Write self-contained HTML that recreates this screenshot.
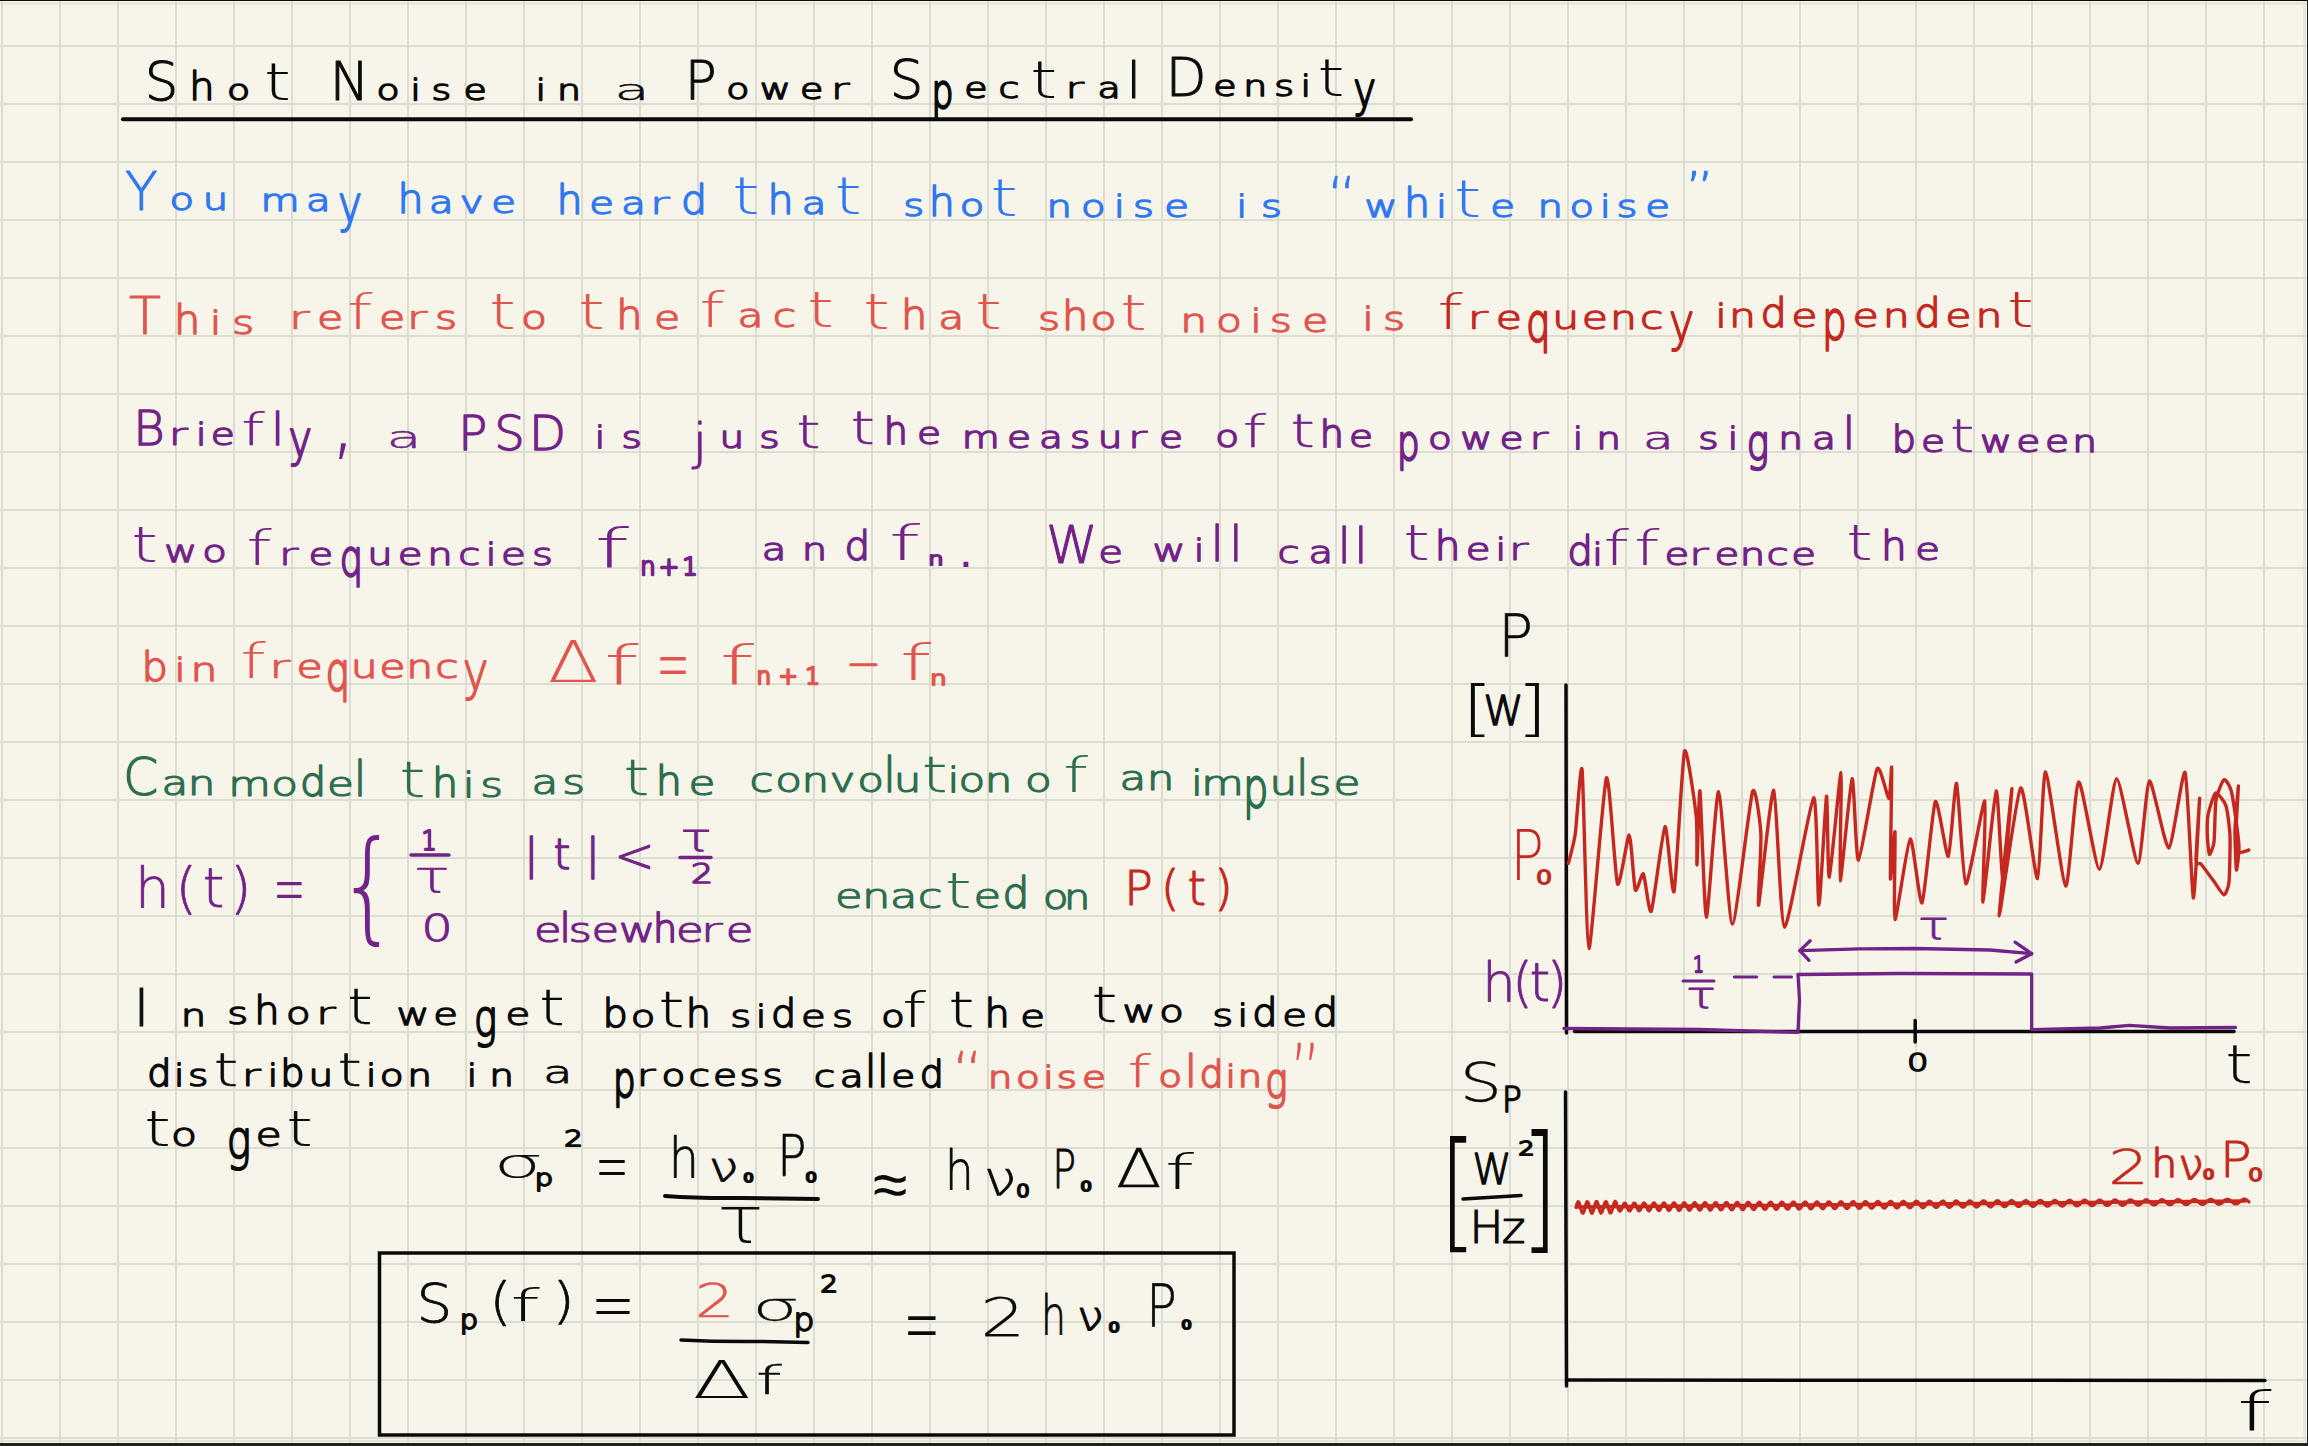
<!DOCTYPE html>
<html><head><meta charset="utf-8"><title>Shot Noise in a Power Spectral Density</title>
<style>html,body{margin:0;padding:0;background:#222;width:2308px;height:1446px}svg{display:block}text{font-family:"Liberation Sans",sans-serif}</style></head><body>
<svg width="2308" height="1446" viewBox="0 0 2308 1446">
<rect x="0" y="0" width="2308" height="1446" fill="#222"/>
<rect x="0" y="0" width="2308" height="1" fill="#0d0d0d"/>
<rect x="0" y="1" width="2307" height="1442" fill="#f7f5ea"/>
<rect x="0" y="2" width="2307" height="3" fill="#e9e8dc"/>
<rect x="2303" y="1" width="3" height="1442" fill="#e9e8dc"/>
<rect x="0" y="1440" width="2307" height="2" fill="#e6e5da"/>
<g fill="#dddcd0"><rect x="1" y="1" width="2" height="1442"/><rect x="59" y="1" width="2" height="1442"/><rect x="117" y="1" width="2" height="1442"/><rect x="175" y="1" width="2" height="1442"/><rect x="233" y="1" width="2" height="1442"/><rect x="291" y="1" width="2" height="1442"/><rect x="349" y="1" width="2" height="1442"/><rect x="407" y="1" width="2" height="1442"/><rect x="465" y="1" width="2" height="1442"/><rect x="523" y="1" width="2" height="1442"/><rect x="581" y="1" width="2" height="1442"/><rect x="639" y="1" width="2" height="1442"/><rect x="697" y="1" width="2" height="1442"/><rect x="755" y="1" width="2" height="1442"/><rect x="813" y="1" width="2" height="1442"/><rect x="871" y="1" width="2" height="1442"/><rect x="929" y="1" width="2" height="1442"/><rect x="987" y="1" width="2" height="1442"/><rect x="1045" y="1" width="2" height="1442"/><rect x="1103" y="1" width="2" height="1442"/><rect x="1161" y="1" width="2" height="1442"/><rect x="1219" y="1" width="2" height="1442"/><rect x="1277" y="1" width="2" height="1442"/><rect x="1335" y="1" width="2" height="1442"/><rect x="1393" y="1" width="2" height="1442"/><rect x="1451" y="1" width="2" height="1442"/><rect x="1509" y="1" width="2" height="1442"/><rect x="1567" y="1" width="2" height="1442"/><rect x="1625" y="1" width="2" height="1442"/><rect x="1683" y="1" width="2" height="1442"/><rect x="1741" y="1" width="2" height="1442"/><rect x="1799" y="1" width="2" height="1442"/><rect x="1857" y="1" width="2" height="1442"/><rect x="1915" y="1" width="2" height="1442"/><rect x="1973" y="1" width="2" height="1442"/><rect x="2031" y="1" width="2" height="1442"/><rect x="2089" y="1" width="2" height="1442"/><rect x="2147" y="1" width="2" height="1442"/><rect x="2205" y="1" width="2" height="1442"/><rect x="2263" y="1" width="2" height="1442"/><rect x="0" y="45" width="2307" height="2"/><rect x="0" y="103" width="2307" height="2"/><rect x="0" y="161" width="2307" height="2"/><rect x="0" y="219" width="2307" height="2"/><rect x="0" y="277" width="2307" height="2"/><rect x="0" y="335" width="2307" height="2"/><rect x="0" y="393" width="2307" height="2"/><rect x="0" y="451" width="2307" height="2"/><rect x="0" y="509" width="2307" height="2"/><rect x="0" y="567" width="2307" height="2"/><rect x="0" y="625" width="2307" height="2"/><rect x="0" y="683" width="2307" height="2"/><rect x="0" y="741" width="2307" height="2"/><rect x="0" y="799" width="2307" height="2"/><rect x="0" y="857" width="2307" height="2"/><rect x="0" y="915" width="2307" height="2"/><rect x="0" y="973" width="2307" height="2"/><rect x="0" y="1031" width="2307" height="2"/><rect x="0" y="1089" width="2307" height="2"/><rect x="0" y="1147" width="2307" height="2"/><rect x="0" y="1205" width="2307" height="2"/><rect x="0" y="1263" width="2307" height="2"/><rect x="0" y="1321" width="2307" height="2"/><rect x="0" y="1379" width="2307" height="2"/><rect x="0" y="1437" width="2307" height="2"/></g>

<g fill="none" stroke-linecap="round" stroke-linejoin="round">
<line x1="123" y1="119.3" x2="1411" y2="119.3" stroke="#0a0a0a" stroke-width="4"/>
<polyline points="411.0,855.0 449.0,855.0" stroke="#722387" stroke-width="3.5"/>
<polyline points="680.0,857.5 711.0,857.5" stroke="#722387" stroke-width="3.5"/>
<path d="M665,1196 Q700,1198.5 740,1198 L818,1199" stroke="#0a0a0a" stroke-width="4"/>
<rect x="379.5" y="1253" width="854.5" height="182" stroke="#0a0a0a" stroke-width="3.5" stroke-linejoin="miter"/>
<path d="M681,1340 Q720,1342 760,1341.5 L808,1342.5" stroke="#0a0a0a" stroke-width="3.5"/>
<line x1="1566" y1="685" x2="1566.5" y2="1033" stroke="#0a0a0a" stroke-width="3.5"/>
<line x1="1574.6" y1="1031.5" x2="2234" y2="1031.5" stroke="#0a0a0a" stroke-width="3.5"/>
<line x1="1915.2" y1="1020.5" x2="1915.2" y2="1042" stroke="#0a0a0a" stroke-width="3.5"/>
<path d="M1568.4,863.3 C1569.1,860.4 1573.8,843.8 1575.2,834.4 C1576.6,825.0 1580.7,758.3 1582.1,769.7 C1583.5,781.1 1586.5,947.7 1588.9,948.5 C1591.3,949.3 1603.5,784.5 1606.4,778.0 C1609.3,771.5 1615.2,878.1 1617.5,883.8 C1619.8,889.5 1627.4,834.5 1629.2,835.1 C1631.0,835.7 1633.9,886.0 1635.3,889.9 C1636.7,893.8 1641.8,871.8 1643.4,873.9 C1645.0,876.0 1649.1,915.9 1651.3,911.2 C1653.5,906.5 1662.7,828.7 1665.0,826.7 C1667.3,824.7 1672.1,898.9 1674.1,891.4 C1676.0,883.9 1682.3,758.9 1684.5,751.4 C1686.7,743.9 1695.0,804.7 1696.2,816.0 C1697.5,827.3 1696.6,867.3 1697.0,864.8 C1697.4,862.3 1699.1,785.8 1700.0,791.0 C1700.9,796.2 1704.5,917.2 1706.4,917.3 C1708.3,917.4 1716.0,791.0 1718.6,791.7 C1721.2,792.4 1729.0,924.1 1732.4,924.1 C1735.8,924.1 1749.7,800.7 1752.5,791.7 C1755.3,782.7 1760.3,823.1 1760.9,834.4 C1761.5,845.7 1757.3,909.5 1758.6,905.1 C1759.9,900.7 1771.2,788.0 1773.8,790.2 C1776.4,792.4 1780.5,926.4 1784.5,927.2 C1788.5,928.0 1810.2,800.0 1813.6,797.8 C1817.0,795.6 1817.6,905.2 1818.9,905.1 C1820.2,905.0 1825.5,799.1 1826.5,796.3 C1827.5,793.5 1827.8,879.4 1829.3,877.0 C1830.8,874.6 1839.9,772.3 1841.0,772.7 C1842.1,773.1 1839.1,880.2 1840.2,880.8 C1841.3,881.4 1850.3,780.9 1852.1,778.8 C1853.9,776.7 1856.0,861.2 1858.5,860.2 C1861.0,859.2 1874.0,775.1 1877.0,768.9 C1880.0,762.7 1887.4,798.7 1888.9,798.6 C1890.4,798.5 1891.5,760.2 1891.7,768.2 C1891.9,776.2 1890.1,872.1 1890.4,878.5 C1890.7,884.9 1894.5,827.9 1895.0,832.0 C1895.5,836.1 1893.5,918.9 1895.0,919.6 C1896.5,920.3 1907.5,840.6 1910.2,838.9 C1912.9,837.2 1919.6,906.5 1922.1,902.8 C1924.6,899.1 1932.7,806.2 1935.3,801.6 C1937.9,797.0 1946.2,858.2 1948.3,856.4 C1950.4,854.6 1954.8,780.7 1956.6,783.4 C1958.3,786.1 1963.0,882.0 1965.8,883.8 C1968.6,885.5 1983.1,799.1 1984.8,800.9 C1986.5,802.7 1981.9,903.0 1983.0,902.0 C1984.1,901.0 1994.2,793.2 1996.2,791.0 C1998.2,788.8 2001.4,880.2 2003.0,880.0 C2004.6,879.8 2012.3,785.1 2011.9,788.7 C2011.5,792.3 1998.4,915.9 1999.3,915.8 C2000.2,915.7 2016.8,791.7 2020.6,788.0 C2024.4,784.3 2035.0,880.1 2037.5,878.5 C2040.0,876.9 2042.8,771.2 2045.6,772.0 C2048.4,772.8 2062.4,885.1 2065.7,886.1 C2069.0,887.1 2075.2,783.6 2078.6,781.9 C2082.0,780.2 2095.6,869.7 2099.4,869.4 C2103.2,869.1 2112.8,779.4 2116.6,778.8 C2120.4,778.2 2134.6,863.1 2137.9,863.3 C2141.2,863.5 2146.3,782.6 2149.4,781.1 C2152.5,779.6 2165.2,848.9 2168.8,848.0 C2172.4,847.1 2182.7,767.5 2185.1,772.5 C2187.5,777.5 2191.9,895.4 2193.3,898.0 C2194.8,900.6 2199.3,802.2 2199.6,798.4 C2199.9,794.6 2195.9,853.4 2196.0,860.0 C2196.1,866.6 2199.3,862.0 2201.0,864.0 C2202.7,866.0 2210.7,876.9 2213.0,880.0 C2215.3,883.1 2222.3,894.6 2223.9,894.8 C2225.5,895.0 2228.4,887.9 2229.0,882.0 C2229.6,876.1 2230.3,843.6 2230.0,836.0 C2229.7,828.4 2227.4,810.3 2226.0,806.0 C2224.6,801.7 2217.4,792.1 2215.6,793.0 C2213.8,793.9 2208.8,810.8 2208.0,815.0 C2207.2,819.2 2207.2,831.1 2207.3,835.0 C2207.4,838.9 2208.7,853.7 2209.4,854.4 C2210.1,855.1 2213.3,847.4 2214.0,842.0 C2214.7,836.6 2215.0,806.2 2216.0,800.0 C2217.0,793.8 2222.5,780.7 2224.0,779.7 C2225.5,778.7 2229.8,786.0 2231.0,790.0 C2232.2,794.0 2235.2,814.2 2236.0,820.0 C2236.8,825.8 2239.0,843.0 2239.0,848.0 C2239.0,853.0 2236.8,871.8 2236.4,870.0 C2236.0,868.2 2234.8,838.4 2235.0,830.0 C2235.2,821.6 2238.3,785.8 2238.4,786.0 C2238.5,786.2 2236.0,825.4 2236.0,832.0 C2236.0,838.6 2236.7,850.2 2238.0,852.0 C2239.3,853.8 2247.7,850.2 2248.8,850.0" stroke="#c4281f" stroke-width="3.4"/>
<polyline points="1564.0,1028.5 1700.0,1029.5 1798.0,1032.4 1799.5,1000.0 1798.0,974.5 1900.0,973.5 2031.7,974.0 2031.7,1029.6 2100.0,1028.0 2129.4,1025.4 2170.0,1028.0 2235.5,1027.5" stroke="#722387" stroke-width="3.3"/>
<polyline points="1683.0,981.0 1714.0,981.0" stroke="#722387" stroke-width="3"/>
<polyline points="1734.3,977.0 1756.6,977.0" stroke="#722387" stroke-width="3"/>
<polyline points="1774.0,977.0 1791.5,977.0" stroke="#722387" stroke-width="3"/>
<polyline points="1799.8,950.6 1860.0,948.8 1915.2,948.5 1990.0,950.0 2031.7,953.7" stroke="#722387" stroke-width="3.3"/>
<polyline points="1810.2,940.8 1799.8,950.6 1809.0,960.3" stroke="#722387" stroke-width="3.3"/>
<polyline points="2015.0,942.2 2031.7,953.7 2016.0,962.0" stroke="#722387" stroke-width="3.3"/>
<line x1="1565.5" y1="1092" x2="1566.5" y2="1386" stroke="#0a0a0a" stroke-width="3.5"/>
<line x1="1567" y1="1380" x2="2265" y2="1380.5" stroke="#0a0a0a" stroke-width="3.5"/>
<line x1="1463" y1="1199" x2="1521" y2="1195.5" stroke="#0a0a0a" stroke-width="3.5"/>
<polyline points="1576.0,1207.5 1577.0,1203.6 1578.0,1201.6 1579.0,1202.3 1580.0,1205.4 1581.0,1209.5 1582.0,1212.6 1583.0,1213.3 1584.0,1211.4 1585.0,1207.6 1586.0,1203.8 1587.0,1201.6 1588.0,1202.1 1589.0,1205.0 1590.0,1208.9 1591.0,1212.2 1592.0,1213.3 1593.0,1211.7 1594.0,1208.2 1595.0,1204.3 1596.0,1201.7 1597.0,1201.7 1598.0,1204.2 1599.0,1208.0 1600.0,1211.5 1601.0,1213.2 1602.0,1212.2 1603.0,1209.1 1604.0,1205.2 1605.0,1202.2 1606.0,1201.4 1607.0,1203.1 1608.0,1206.6 1609.0,1210.4 1610.0,1212.8 1611.0,1212.8 1612.0,1210.3 1613.0,1206.6 1614.0,1203.1 1615.0,1201.3 1616.0,1202.0 1617.0,1205.6 1618.0,1208.3 1619.0,1210.4 1620.0,1211.2 1621.0,1210.2 1622.0,1208.0 1623.0,1205.4 1624.0,1203.5 1625.0,1203.1 1626.0,1204.3 1627.0,1206.7 1628.0,1209.2 1629.0,1210.9 1630.0,1210.9 1631.0,1209.3 1632.0,1206.8 1633.0,1204.4 1634.0,1203.0 1635.0,1203.3 1636.0,1205.0 1637.0,1207.5 1638.0,1209.8 1639.0,1210.9 1640.0,1210.4 1641.0,1208.6 1642.0,1206.0 1643.0,1203.8 1644.0,1202.9 1645.0,1203.5 1646.0,1205.5 1647.0,1208.0 1648.0,1210.1 1649.0,1210.9 1650.0,1210.1 1651.0,1208.0 1652.0,1205.5 1653.0,1203.5 1654.0,1202.8 1655.0,1203.6 1656.0,1205.7 1657.0,1208.1 1658.0,1210.1 1659.0,1210.7 1660.0,1209.9 1661.0,1207.8 1662.0,1205.4 1663.0,1203.4 1664.0,1202.8 1665.0,1203.6 1666.0,1205.6 1667.0,1208.0 1668.0,1209.9 1669.0,1210.6 1670.0,1209.8 1671.0,1207.9 1672.0,1205.5 1673.0,1203.5 1674.0,1202.7 1675.0,1203.4 1676.0,1205.2 1677.0,1207.6 1678.0,1209.6 1679.0,1210.5 1680.0,1210.0 1681.0,1208.2 1682.0,1205.8 1683.0,1203.7 1684.0,1202.7 1685.0,1203.0 1686.0,1204.6 1687.0,1206.9 1688.0,1209.0 1689.0,1210.3 1690.0,1210.1 1691.0,1208.7 1692.0,1206.5 1693.0,1204.3 1694.0,1202.8 1695.0,1202.7 1696.0,1203.8 1697.0,1205.9 1698.0,1208.2 1699.0,1209.8 1700.0,1210.2 1701.0,1209.3 1702.0,1207.4 1703.0,1205.1 1704.0,1203.3 1705.0,1202.5 1706.0,1203.1 1707.0,1204.8 1708.0,1207.0 1709.0,1209.0 1710.0,1210.1 1711.0,1209.9 1712.0,1208.4 1713.0,1206.3 1714.0,1204.1 1715.0,1202.7 1716.0,1202.5 1717.0,1203.6 1718.0,1205.5 1719.0,1207.7 1720.0,1209.4 1721.0,1210.0 1722.0,1209.4 1723.0,1207.7 1724.0,1205.5 1725.0,1203.5 1726.0,1202.5 1727.0,1202.6 1728.0,1203.9 1729.0,1206.0 1730.0,1208.1 1731.0,1209.5 1732.0,1209.9 1733.0,1209.0 1734.0,1207.2 1735.0,1205.0 1736.0,1203.2 1737.0,1202.3 1738.0,1202.7 1739.0,1204.1 1740.0,1206.1 1741.0,1208.1 1742.0,1209.5 1743.0,1209.7 1744.0,1208.8 1745.0,1206.9 1746.0,1204.8 1747.0,1203.1 1748.0,1202.3 1749.0,1202.6 1750.0,1204.0 1751.0,1206.0 1752.0,1208.0 1753.0,1209.3 1754.0,1209.6 1755.0,1208.7 1756.0,1207.0 1757.0,1204.9 1758.0,1203.1 1759.0,1202.2 1760.0,1202.4 1761.0,1203.7 1762.0,1205.6 1763.0,1207.6 1764.0,1209.1 1765.0,1209.5 1766.0,1208.8 1767.0,1207.2 1768.0,1205.2 1769.0,1203.4 1770.0,1202.3 1771.0,1202.2 1772.0,1203.2 1773.0,1205.0 1774.0,1207.0 1775.0,1208.6 1776.0,1209.4 1777.0,1209.0 1778.0,1207.7 1779.0,1205.8 1780.0,1203.9 1781.0,1202.5 1782.0,1202.0 1783.0,1202.6 1784.0,1204.1 1785.0,1206.1 1786.0,1207.9 1787.0,1209.0 1788.0,1209.2 1789.0,1208.3 1790.0,1206.6 1791.0,1204.7 1792.0,1203.0 1793.0,1202.0 1794.0,1202.1 1795.0,1203.2 1796.0,1204.9 1797.0,1206.8 1798.0,1208.4 1799.0,1209.1 1800.0,1208.8 1801.0,1207.6 1802.0,1205.8 1803.0,1203.9 1804.0,1202.5 1805.0,1201.9 1806.0,1202.3 1807.0,1203.6 1808.0,1205.4 1809.0,1207.2 1810.0,1208.5 1811.0,1209.0 1812.0,1208.4 1813.0,1207.0 1814.0,1205.2 1815.0,1203.4 1816.0,1202.2 1817.0,1201.8 1818.0,1202.4 1819.0,1203.8 1820.0,1205.6 1821.0,1207.4 1822.0,1208.5 1823.0,1208.8 1824.0,1208.2 1825.0,1206.7 1826.0,1204.9 1827.0,1203.2 1828.0,1202.0 1829.0,1201.7 1830.0,1202.4 1831.0,1203.8 1832.0,1205.6 1833.0,1207.3 1834.0,1208.4 1835.0,1208.7 1836.0,1208.0 1837.0,1206.6 1838.0,1204.9 1839.0,1203.2 1840.0,1202.0 1841.0,1201.7 1842.0,1202.2 1843.0,1203.6 1844.0,1205.3 1845.0,1207.0 1846.0,1208.2 1847.0,1208.6 1848.0,1208.1 1849.0,1206.8 1850.0,1205.1 1851.0,1203.4 1852.0,1202.1 1853.0,1201.6 1854.0,1201.9 1855.0,1203.1 1856.0,1204.7 1857.0,1206.4 1858.0,1207.8 1859.0,1208.4 1860.0,1208.2 1861.0,1207.1 1862.0,1205.5 1863.0,1203.8 1864.0,1202.4 1865.0,1201.6 1866.0,1201.6 1867.0,1202.5 1868.0,1204.0 1869.0,1205.7 1870.0,1207.2 1871.0,1208.1 1872.0,1208.2 1873.0,1207.5 1874.0,1206.2 1875.0,1204.5 1876.0,1202.9 1877.0,1201.8 1878.0,1201.4 1879.0,1201.9 1880.0,1203.0 1881.0,1204.6 1882.0,1206.2 1883.0,1207.5 1884.0,1208.1 1885.0,1207.9 1886.0,1206.9 1887.0,1205.4 1888.0,1203.8 1889.0,1202.4 1890.0,1201.5 1891.0,1201.4 1892.0,1202.1 1893.0,1203.4 1894.0,1205.0 1895.0,1206.5 1896.0,1207.6 1897.0,1208.0 1898.0,1207.6 1899.0,1206.5 1900.0,1204.9 1901.0,1203.3 1902.0,1202.0 1903.0,1201.3 1904.0,1201.4 1905.0,1202.2 1906.0,1203.5 1907.0,1205.1 1908.0,1206.6 1909.0,1207.5 1910.0,1207.8 1911.0,1207.3 1912.0,1206.2 1913.0,1204.7 1914.0,1203.1 1915.0,1201.9 1916.0,1201.2 1917.0,1201.3 1918.0,1202.1 1919.0,1203.4 1920.0,1205.0 1921.0,1206.4 1922.0,1207.4 1923.0,1207.7 1924.0,1207.2 1925.0,1206.2 1926.0,1204.7 1927.0,1203.2 1928.0,1201.9 1929.0,1201.2 1930.0,1201.2 1931.0,1201.9 1932.0,1203.1 1933.0,1204.6 1934.0,1206.1 1935.0,1207.1 1936.0,1207.5 1937.0,1207.2 1938.0,1206.3 1939.0,1204.9 1940.0,1203.4 1941.0,1202.1 1942.0,1201.2 1943.0,1201.0 1944.0,1201.5 1945.0,1202.6 1946.0,1204.0 1947.0,1205.5 1948.0,1206.7 1949.0,1207.3 1950.0,1207.3 1951.0,1206.6 1952.0,1205.4 1953.0,1203.9 1954.0,1202.5 1955.0,1201.4 1956.0,1200.9 1957.0,1201.1 1958.0,1202.0 1959.0,1203.2 1960.0,1204.7 1961.0,1206.0 1962.0,1206.9 1963.0,1207.2 1964.0,1206.9 1965.0,1205.9 1966.0,1204.6 1967.0,1203.1 1968.0,1201.9 1969.0,1201.1 1970.0,1200.9 1971.0,1201.3 1972.0,1202.3 1973.0,1203.6 1974.0,1205.0 1975.0,1206.2 1976.0,1206.9 1977.0,1207.0 1978.0,1206.5 1979.0,1205.4 1980.0,1204.0 1981.0,1202.7 1982.0,1201.5 1983.0,1200.9 1984.0,1200.8 1985.0,1201.4 1986.0,1202.5 1987.0,1203.8 1988.0,1205.2 1989.0,1206.2 1990.0,1206.8 1991.0,1206.8 1992.0,1206.2 1993.0,1205.1 1994.0,1203.7 1995.0,1202.4 1996.0,1201.3 1997.0,1200.7 1998.0,1200.8 1999.0,1201.3 2000.0,1202.4 2001.0,1203.7 2002.0,1205.0 2003.0,1206.1 2004.0,1206.7 2005.0,1206.7 2006.0,1206.1 2007.0,1205.0 2008.0,1203.7 2009.0,1202.4 2010.0,1201.3 2011.0,1200.7 2012.0,1200.6 2013.0,1201.2 2014.0,1202.2 2015.0,1203.4 2016.0,1204.7 2017.0,1205.8 2018.0,1206.4 2019.0,1206.5 2020.0,1206.1 2021.0,1205.1 2022.0,1203.8 2023.0,1202.5 2024.0,1201.4 2025.0,1200.7 2026.0,1200.5 2027.0,1200.9 2028.0,1201.7 2029.0,1202.9 2030.0,1204.2 2031.0,1205.3 2032.0,1206.1 2033.0,1206.4 2034.0,1206.1 2035.0,1205.3 2036.0,1204.2 2037.0,1202.9 2038.0,1201.7 2039.0,1200.8 2040.0,1200.4 2041.0,1200.6 2042.0,1201.2 2043.0,1202.2 2044.0,1203.5 2045.0,1204.7 2046.0,1205.6 2047.0,1206.2 2048.0,1206.2 2049.0,1205.6 2050.0,1204.7 2051.0,1203.5 2052.0,1202.3 2053.0,1201.2 2054.0,1200.5 2055.0,1200.3 2056.0,1200.7 2057.0,1201.4 2058.0,1202.6 2059.0,1203.8 2060.0,1204.9 2061.0,1205.7 2062.0,1206.1 2063.0,1205.9 2064.0,1205.2 2065.0,1204.2 2066.0,1203.0 2067.0,1201.8 2068.0,1200.9 2069.0,1200.3 2070.0,1200.3 2071.0,1200.7 2072.0,1201.5 2073.0,1202.7 2074.0,1203.8 2075.0,1204.9 2076.0,1205.6 2077.0,1205.9 2078.0,1205.7 2079.0,1205.0 2080.0,1204.0 2081.0,1202.8 2082.0,1201.6 2083.0,1200.7 2084.0,1200.2 2085.0,1200.2 2086.0,1200.6 2087.0,1201.4 2088.0,1202.5 2089.0,1203.7 2090.0,1204.7 2091.0,1205.4 2092.0,1205.7 2093.0,1205.5 2094.0,1204.9 2095.0,1203.9 2096.0,1202.8 2097.0,1201.6 2098.0,1200.7 2099.0,1200.2 2100.0,1200.1 2101.0,1200.4 2102.0,1201.2 2103.0,1202.2 2104.0,1203.3 2105.0,1204.4 2106.0,1205.2 2107.0,1205.5 2108.0,1205.4 2109.0,1204.9 2110.0,1204.0 2111.0,1202.9 2112.0,1201.8 2113.0,1200.8 2114.0,1200.2 2115.0,1199.9 2116.0,1200.2 2117.0,1200.8 2118.0,1201.7 2119.0,1202.8 2120.0,1203.9 2121.0,1204.7 2122.0,1205.3 2123.0,1205.3 2124.0,1205.0 2125.0,1204.3 2126.0,1203.3 2127.0,1202.2 2128.0,1201.1 2129.0,1200.3 2130.0,1199.9 2131.0,1199.9 2132.0,1200.3 2133.0,1201.1 2134.0,1202.1 2135.0,1203.2 2136.0,1204.1 2137.0,1204.8 2138.0,1205.2 2139.0,1205.1 2140.0,1204.6 2141.0,1203.7 2142.0,1202.7 2143.0,1201.6 2144.0,1200.7 2145.0,1200.0 2146.0,1199.7 2147.0,1199.9 2148.0,1200.4 2149.0,1201.2 2150.0,1202.2 2151.0,1203.3 2152.0,1204.2 2153.0,1204.8 2154.0,1205.0 2155.0,1204.8 2156.0,1204.3 2157.0,1203.4 2158.0,1202.4 2159.0,1201.4 2160.0,1200.5 2161.0,1199.9 2162.0,1199.6 2163.0,1199.8 2164.0,1200.4 2165.0,1201.2 2166.0,1202.2 2167.0,1203.2 2168.0,1204.0 2169.0,1204.6 2170.0,1204.8 2171.0,1204.6 2172.0,1204.1 2173.0,1203.2 2174.0,1202.2 2175.0,1201.2 2176.0,1200.4 2177.0,1199.8 2178.0,1199.5 2179.0,1199.7 2180.0,1200.2 2181.0,1201.0 2182.0,1201.9 2183.0,1202.9 2184.0,1203.8 2185.0,1204.4 2186.0,1204.6 2187.0,1204.5 2188.0,1204.0 2189.0,1203.2 2190.0,1202.3 2191.0,1201.3 2192.0,1200.4 2193.0,1199.8 2194.0,1199.5 2195.0,1199.5 2196.0,1199.9 2197.0,1200.6 2198.0,1201.5 2199.0,1202.5 2200.0,1203.4 2201.0,1204.0 2202.0,1204.4 2203.0,1204.4 2204.0,1204.0 2205.0,1203.4 2206.0,1202.5 2207.0,1201.6 2208.0,1200.6 2209.0,1199.9 2210.0,1199.5 2211.0,1199.3 2212.0,1199.6 2213.0,1200.1 2214.0,1200.9 2215.0,1201.9 2216.0,1202.8 2217.0,1203.5 2218.0,1204.1 2219.0,1204.2 2220.0,1204.1 2221.0,1203.6 2222.0,1202.9 2223.0,1202.0 2224.0,1201.0 2225.0,1200.2 2226.0,1199.6 2227.0,1199.3 2228.0,1199.3 2229.0,1199.6 2230.0,1200.3 2231.0,1201.1 2232.0,1202.0 2233.0,1202.8 2234.0,1203.5 2235.0,1203.9 2236.0,1204.0 2237.0,1203.8 2238.0,1203.3 2239.0,1202.5 2240.0,1201.6 2241.0,1200.7 2242.0,1200.0 2243.0,1199.4 2244.0,1199.1 2245.0,1199.2 2246.0,1199.6 2247.0,1200.2 2248.0,1201.1 2249.0,1201.9" stroke="#c4281f" stroke-width="3.2"/>
<line x1="1578" y1="1207" x2="2245" y2="1201" stroke="#c4281f" stroke-width="3.5"/>
</g>
<text y="100" fill="#0a0a0a" stroke="#0a0a0a" stroke-linejoin="round" style="font-family:'DejaVu Sans',sans-serif;font-weight:200"><tspan x="144.8" y="100" font-size="52.9" stroke-width="1.05">S</tspan><tspan x="189.3" y="100" font-size="39.9" stroke-width="1.70">h</tspan><tspan x="227.0" y="100" font-size="29.1" textLength="23.14" lengthAdjust="spacingAndGlyphs" stroke-width="1.47">o</tspan><tspan x="264.0" y="100" font-size="50.9" textLength="26.94" lengthAdjust="spacingAndGlyphs" stroke-width="0.21">t</tspan></text>
<text y="100" fill="#0a0a0a" stroke="#0a0a0a" stroke-linejoin="round" style="font-family:'DejaVu Sans',sans-serif;font-weight:200"><tspan x="329.7" y="100" font-size="52.9" stroke-width="1.05">N</tspan><tspan x="376.6" y="100" font-size="29.1" textLength="23.14" lengthAdjust="spacingAndGlyphs" stroke-width="1.47">o</tspan><tspan x="411.6" y="100" font-size="29.1" stroke-width="2.25">i</tspan><tspan x="431.4" y="100" font-size="29.1" textLength="19.70" lengthAdjust="spacingAndGlyphs" stroke-width="1.47">s</tspan><tspan x="463.6" y="100" font-size="29.1" textLength="23.27" lengthAdjust="spacingAndGlyphs" stroke-width="1.47">e</tspan></text>
<text y="100" fill="#0a0a0a" stroke="#0a0a0a" stroke-linejoin="round" style="font-family:'DejaVu Sans',sans-serif;font-weight:200"><tspan x="536.8" y="100" font-size="29.1" stroke-width="2.25">i</tspan><tspan x="557.0" y="100" font-size="29.1" textLength="23.97" lengthAdjust="spacingAndGlyphs" stroke-width="1.47">n</tspan></text>
<text y="100" fill="#0a0a0a" stroke="#0a0a0a" stroke-linejoin="round" style="font-family:'DejaVu Sans',sans-serif;font-weight:200"><tspan x="614.4" y="100" font-size="29.1" textLength="35.02" lengthAdjust="spacingAndGlyphs" stroke-width="0.49">a</tspan></text>
<text y="99" fill="#0a0a0a" stroke="#0a0a0a" stroke-linejoin="round" style="font-family:'DejaVu Sans',sans-serif;font-weight:200"><tspan x="684.7" y="99" font-size="52.9" stroke-width="1.05">P</tspan><tspan x="726.3" y="99" font-size="29.1" textLength="23.14" lengthAdjust="spacingAndGlyphs" stroke-width="1.47">o</tspan><tspan x="759.7" y="99" font-size="29.1" textLength="30.93" lengthAdjust="spacingAndGlyphs" stroke-width="1.47">w</tspan><tspan x="799.9" y="99" font-size="29.1" textLength="23.27" lengthAdjust="spacingAndGlyphs" stroke-width="1.47">e</tspan><tspan x="830.5" y="99" font-size="29.1" textLength="19.14" lengthAdjust="spacingAndGlyphs" stroke-width="0.94">r</tspan></text>
<text y="98" fill="#0a0a0a" stroke="#0a0a0a" stroke-linejoin="round" style="font-family:'DejaVu Sans',sans-serif;font-weight:200"><tspan x="889.8" y="98" font-size="52.9" stroke-width="1.05">S</tspan><tspan x="931.6" y="108.4" font-size="48.0" textLength="21.94" lengthAdjust="spacingAndGlyphs" stroke-width="2.56">p</tspan><tspan x="964.3" y="98" font-size="29.1" textLength="23.27" lengthAdjust="spacingAndGlyphs" stroke-width="1.47">e</tspan><tspan x="998.4" y="98" font-size="29.1" textLength="20.79" lengthAdjust="spacingAndGlyphs" stroke-width="1.47">c</tspan><tspan x="1030.2" y="98" font-size="50.9" textLength="26.94" lengthAdjust="spacingAndGlyphs" stroke-width="0.21">t</tspan><tspan x="1065.1" y="98" font-size="29.1" textLength="19.14" lengthAdjust="spacingAndGlyphs" stroke-width="0.94">r</tspan><tspan x="1097.6" y="98" font-size="29.1" textLength="23.17" lengthAdjust="spacingAndGlyphs" stroke-width="1.47">a</tspan><tspan x="1127.1" y="98" font-size="49.3" stroke-width="1.23">l</tspan></text>
<text y="96" fill="#0a0a0a" stroke="#0a0a0a" stroke-linejoin="round" style="font-family:'DejaVu Sans',sans-serif;font-weight:200"><tspan x="1165.7" y="96" font-size="52.9" stroke-width="1.05">D</tspan><tspan x="1213.2" y="96" font-size="29.1" textLength="23.27" lengthAdjust="spacingAndGlyphs" stroke-width="1.47">e</tspan><tspan x="1243.2" y="96" font-size="29.1" textLength="23.97" lengthAdjust="spacingAndGlyphs" stroke-width="1.47">n</tspan><tspan x="1274.3" y="96" font-size="29.1" textLength="19.70" lengthAdjust="spacingAndGlyphs" stroke-width="1.47">s</tspan><tspan x="1301.8" y="96" font-size="29.1" stroke-width="2.25">i</tspan><tspan x="1317.4" y="96" font-size="50.9" textLength="26.94" lengthAdjust="spacingAndGlyphs" stroke-width="0.21">t</tspan><tspan x="1353.3" y="106.4" font-size="48.0" textLength="22.73" lengthAdjust="spacingAndGlyphs" stroke-width="2.13">y</tspan></text>
<text y="210" fill="#3078f0" stroke="#3078f0" stroke-linejoin="round" style="font-family:'DejaVu Sans',sans-serif;font-weight:200"><tspan x="124.9" y="210" font-size="53.6" stroke-width="1.02">Y</tspan><tspan x="169.4" y="210" font-size="30.9" textLength="24.58" lengthAdjust="spacingAndGlyphs" stroke-width="1.37">o</tspan><tspan x="202.7" y="210" font-size="30.9" textLength="25.47" lengthAdjust="spacingAndGlyphs" stroke-width="1.37">u</tspan></text>
<text y="211" fill="#3078f0" stroke="#3078f0" stroke-linejoin="round" style="font-family:'DejaVu Sans',sans-serif;font-weight:200"><tspan x="260.6" y="211" font-size="30.9" textLength="39.14" lengthAdjust="spacingAndGlyphs" stroke-width="1.37">m</tspan><tspan x="306.1" y="211" font-size="30.9" textLength="24.62" lengthAdjust="spacingAndGlyphs" stroke-width="1.37">a</tspan><tspan x="338.0" y="222.1" font-size="51.0" textLength="24.15" lengthAdjust="spacingAndGlyphs" stroke-width="1.98">y</tspan></text>
<text y="213" fill="#3078f0" stroke="#3078f0" stroke-linejoin="round" style="font-family:'DejaVu Sans',sans-serif;font-weight:200"><tspan x="397.5" y="213" font-size="41.2" stroke-width="1.64">h</tspan><tspan x="429.1" y="213" font-size="30.9" textLength="24.62" lengthAdjust="spacingAndGlyphs" stroke-width="1.37">a</tspan><tspan x="459.8" y="213" font-size="30.9" textLength="23.78" lengthAdjust="spacingAndGlyphs" stroke-width="1.37">v</tspan><tspan x="491.3" y="213" font-size="30.9" textLength="24.72" lengthAdjust="spacingAndGlyphs" stroke-width="1.37">e</tspan></text>
<text y="214" fill="#3078f0" stroke="#3078f0" stroke-linejoin="round" style="font-family:'DejaVu Sans',sans-serif;font-weight:200"><tspan x="556.5" y="214" font-size="41.2" stroke-width="1.64">h</tspan><tspan x="589.2" y="214" font-size="30.9" textLength="24.72" lengthAdjust="spacingAndGlyphs" stroke-width="1.37">e</tspan><tspan x="621.3" y="214" font-size="30.9" textLength="24.62" lengthAdjust="spacingAndGlyphs" stroke-width="1.37">a</tspan><tspan x="649.6" y="214" font-size="30.9" textLength="20.33" lengthAdjust="spacingAndGlyphs" stroke-width="0.84">r</tspan><tspan x="681.1" y="214" font-size="41.2" stroke-width="1.64">d</tspan></text>
<text y="214" fill="#3078f0" stroke="#3078f0" stroke-linejoin="round" style="font-family:'DejaVu Sans',sans-serif;font-weight:200"><tspan x="732.2" y="214" font-size="51.6" textLength="27.30" lengthAdjust="spacingAndGlyphs" stroke-width="0.17">t</tspan><tspan x="767.6" y="214" font-size="41.2" stroke-width="1.64">h</tspan><tspan x="801.8" y="214" font-size="30.9" textLength="24.62" lengthAdjust="spacingAndGlyphs" stroke-width="1.37">a</tspan><tspan x="834.6" y="214" font-size="51.6" textLength="27.30" lengthAdjust="spacingAndGlyphs" stroke-width="0.17">t</tspan></text>
<text y="216" fill="#3078f0" stroke="#3078f0" stroke-linejoin="round" style="font-family:'DejaVu Sans',sans-serif;font-weight:200"><tspan x="903.2" y="216" font-size="30.9" textLength="20.93" lengthAdjust="spacingAndGlyphs" stroke-width="1.37">s</tspan><tspan x="928.7" y="216" font-size="41.2" stroke-width="1.64">h</tspan><tspan x="959.7" y="216" font-size="30.9" textLength="24.58" lengthAdjust="spacingAndGlyphs" stroke-width="1.37">o</tspan><tspan x="990.6" y="216" font-size="51.6" textLength="27.30" lengthAdjust="spacingAndGlyphs" stroke-width="0.17">t</tspan></text>
<text y="217" fill="#3078f0" stroke="#3078f0" stroke-linejoin="round" style="font-family:'DejaVu Sans',sans-serif;font-weight:200"><tspan x="1046.6" y="217" font-size="30.9" textLength="25.47" lengthAdjust="spacingAndGlyphs" stroke-width="1.37">n</tspan><tspan x="1080.9" y="217" font-size="30.9" textLength="24.58" lengthAdjust="spacingAndGlyphs" stroke-width="1.37">o</tspan><tspan x="1115.1" y="217" font-size="30.9" stroke-width="2.15">i</tspan><tspan x="1133.1" y="217" font-size="30.9" textLength="20.93" lengthAdjust="spacingAndGlyphs" stroke-width="1.37">s</tspan><tspan x="1164.3" y="217" font-size="30.9" textLength="24.72" lengthAdjust="spacingAndGlyphs" stroke-width="1.37">e</tspan></text>
<text y="217" fill="#3078f0" stroke="#3078f0" stroke-linejoin="round" style="font-family:'DejaVu Sans',sans-serif;font-weight:200"><tspan x="1237.6" y="217" font-size="30.9" stroke-width="2.15">i</tspan><tspan x="1260.9" y="217" font-size="30.9" textLength="20.93" lengthAdjust="spacingAndGlyphs" stroke-width="1.37">s</tspan></text>
<text y="217" fill="#3078f0" stroke="#3078f0" stroke-linejoin="round" style="font-family:'DejaVu Sans',sans-serif;font-weight:200"><tspan x="1364.6" y="217" font-size="30.9" textLength="32.86" lengthAdjust="spacingAndGlyphs" stroke-width="1.37">w</tspan><tspan x="1404.1" y="217" font-size="41.2" stroke-width="1.64">h</tspan><tspan x="1437.2" y="217" font-size="30.9" stroke-width="2.15">i</tspan><tspan x="1454.1" y="217" font-size="51.6" textLength="27.30" lengthAdjust="spacingAndGlyphs" stroke-width="0.17">t</tspan><tspan x="1490.3" y="217" font-size="30.9" textLength="24.72" lengthAdjust="spacingAndGlyphs" stroke-width="1.37">e</tspan></text>
<text y="217" fill="#3078f0" stroke="#3078f0" stroke-linejoin="round" style="font-family:'DejaVu Sans',sans-serif;font-weight:200"><tspan x="1537.6" y="217" font-size="30.9" textLength="25.47" lengthAdjust="spacingAndGlyphs" stroke-width="1.37">n</tspan><tspan x="1569.4" y="217" font-size="30.9" textLength="24.58" lengthAdjust="spacingAndGlyphs" stroke-width="1.37">o</tspan><tspan x="1601.1" y="217" font-size="30.9" stroke-width="2.15">i</tspan><tspan x="1616.6" y="217" font-size="30.9" textLength="20.93" lengthAdjust="spacingAndGlyphs" stroke-width="1.37">s</tspan><tspan x="1645.3" y="217" font-size="30.9" textLength="24.72" lengthAdjust="spacingAndGlyphs" stroke-width="1.37">e</tspan></text>
<text y="334" fill="#e0564e" stroke="#e0564e" stroke-linejoin="round" style="font-family:'DejaVu Sans',sans-serif;font-weight:200"><tspan x="129.0" y="334" font-size="52.2" stroke-width="1.09">T</tspan><tspan x="173.9" y="334" font-size="41.5" stroke-width="1.62">h</tspan><tspan x="210.9" y="334" font-size="32.7" stroke-width="2.06">i</tspan><tspan x="231.9" y="334" font-size="32.7" textLength="22.17" lengthAdjust="spacingAndGlyphs" stroke-width="1.27">s</tspan></text>
<text y="329" fill="#e0564e" stroke="#e0564e" stroke-linejoin="round" style="font-family:'DejaVu Sans',sans-serif;font-weight:200"><tspan x="288.2" y="329" font-size="32.7" textLength="21.53" lengthAdjust="spacingAndGlyphs" stroke-width="0.74">r</tspan><tspan x="317.0" y="329" font-size="32.7" textLength="26.18" lengthAdjust="spacingAndGlyphs" stroke-width="1.27">e</tspan><tspan x="346.8" y="329" font-size="48.7" textLength="25.71" lengthAdjust="spacingAndGlyphs" stroke-width="0.04">f</tspan><tspan x="379.1" y="329" font-size="32.7" textLength="26.18" lengthAdjust="spacingAndGlyphs" stroke-width="1.27">e</tspan><tspan x="406.1" y="329" font-size="32.7" textLength="21.53" lengthAdjust="spacingAndGlyphs" stroke-width="0.74">r</tspan><tspan x="434.9" y="329" font-size="32.7" textLength="22.17" lengthAdjust="spacingAndGlyphs" stroke-width="1.27">s</tspan></text>
<text y="329" fill="#e0564e" stroke="#e0564e" stroke-linejoin="round" style="font-family:'DejaVu Sans',sans-serif;font-weight:200"><tspan x="489.3" y="329" font-size="50.2" textLength="26.58" lengthAdjust="spacingAndGlyphs" stroke-width="0.24">t</tspan><tspan x="521.0" y="329" font-size="32.7" textLength="26.03" lengthAdjust="spacingAndGlyphs" stroke-width="1.27">o</tspan></text>
<text y="329" fill="#e0564e" stroke="#e0564e" stroke-linejoin="round" style="font-family:'DejaVu Sans',sans-serif;font-weight:200"><tspan x="578.3" y="329" font-size="50.2" textLength="26.58" lengthAdjust="spacingAndGlyphs" stroke-width="0.24">t</tspan><tspan x="616.2" y="329" font-size="41.5" stroke-width="1.62">h</tspan><tspan x="654.0" y="329" font-size="32.7" textLength="26.18" lengthAdjust="spacingAndGlyphs" stroke-width="1.27">e</tspan></text>
<text y="327" fill="#e0564e" stroke="#e0564e" stroke-linejoin="round" style="font-family:'DejaVu Sans',sans-serif;font-weight:200"><tspan x="699.1" y="327" font-size="48.7" textLength="25.71" lengthAdjust="spacingAndGlyphs" stroke-width="0.04">f</tspan><tspan x="737.6" y="327" font-size="32.7" textLength="26.07" lengthAdjust="spacingAndGlyphs" stroke-width="1.27">a</tspan><tspan x="772.7" y="327" font-size="32.7" textLength="23.39" lengthAdjust="spacingAndGlyphs" stroke-width="1.27">c</tspan><tspan x="807.3" y="327" font-size="50.2" textLength="26.58" lengthAdjust="spacingAndGlyphs" stroke-width="0.24">t</tspan></text>
<text y="329" fill="#e0564e" stroke="#e0564e" stroke-linejoin="round" style="font-family:'DejaVu Sans',sans-serif;font-weight:200"><tspan x="863.3" y="329" font-size="50.2" textLength="26.58" lengthAdjust="spacingAndGlyphs" stroke-width="0.24">t</tspan><tspan x="901.0" y="329" font-size="41.5" stroke-width="1.62">h</tspan><tspan x="938.2" y="329" font-size="32.7" textLength="26.07" lengthAdjust="spacingAndGlyphs" stroke-width="1.27">a</tspan><tspan x="975.3" y="329" font-size="50.2" textLength="26.58" lengthAdjust="spacingAndGlyphs" stroke-width="0.24">t</tspan></text>
<text y="330" fill="#e0564e" stroke="#e0564e" stroke-linejoin="round" style="font-family:'DejaVu Sans',sans-serif;font-weight:200"><tspan x="1038.0" y="330" font-size="32.7" textLength="22.17" lengthAdjust="spacingAndGlyphs" stroke-width="1.27">s</tspan><tspan x="1062.1" y="330" font-size="41.5" stroke-width="1.62">h</tspan><tspan x="1090.6" y="330" font-size="32.7" textLength="26.03" lengthAdjust="spacingAndGlyphs" stroke-width="1.27">o</tspan><tspan x="1120.3" y="330" font-size="50.2" textLength="26.58" lengthAdjust="spacingAndGlyphs" stroke-width="0.24">t</tspan></text>
<text y="332" fill="#e0564e" stroke="#e0564e" stroke-linejoin="round" style="font-family:'DejaVu Sans',sans-serif;font-weight:200"><tspan x="1180.3" y="332" font-size="32.7" textLength="26.96" lengthAdjust="spacingAndGlyphs" stroke-width="1.27">n</tspan><tspan x="1216.0" y="332" font-size="32.7" textLength="26.03" lengthAdjust="spacingAndGlyphs" stroke-width="1.27">o</tspan><tspan x="1251.4" y="332" font-size="32.7" stroke-width="2.06">i</tspan><tspan x="1269.8" y="332" font-size="32.7" textLength="22.17" lengthAdjust="spacingAndGlyphs" stroke-width="1.27">s</tspan><tspan x="1302.0" y="332" font-size="32.7" textLength="26.18" lengthAdjust="spacingAndGlyphs" stroke-width="1.27">e</tspan></text>
<text y="330" fill="#e0564e" stroke="#e0564e" stroke-linejoin="round" style="font-family:'DejaVu Sans',sans-serif;font-weight:200"><tspan x="1363.4" y="330" font-size="32.7" stroke-width="2.06">i</tspan><tspan x="1382.9" y="330" font-size="32.7" textLength="22.17" lengthAdjust="spacingAndGlyphs" stroke-width="1.27">s</tspan></text>
<text y="329" fill="#c4281f" stroke="#c4281f" stroke-linejoin="round" style="font-family:'DejaVu Sans',sans-serif;font-weight:200"><tspan x="1437.1" y="329" font-size="48.7" textLength="25.71" lengthAdjust="spacingAndGlyphs" stroke-width="0.04">f</tspan><tspan x="1466.8" y="329" font-size="32.7" textLength="21.53" lengthAdjust="spacingAndGlyphs" stroke-width="0.74">r</tspan><tspan x="1495.8" y="329" font-size="32.7" textLength="26.18" lengthAdjust="spacingAndGlyphs" stroke-width="1.27">e</tspan><tspan x="1526.0" y="340.7" font-size="54.0" textLength="24.68" lengthAdjust="spacingAndGlyphs" stroke-width="2.28">q</tspan><tspan x="1552.3" y="329" font-size="32.7" textLength="26.96" lengthAdjust="spacingAndGlyphs" stroke-width="1.27">u</tspan><tspan x="1581.8" y="329" font-size="32.7" textLength="26.18" lengthAdjust="spacingAndGlyphs" stroke-width="1.27">e</tspan><tspan x="1610.1" y="329" font-size="32.7" textLength="26.96" lengthAdjust="spacingAndGlyphs" stroke-width="1.27">n</tspan><tspan x="1640.0" y="329" font-size="32.7" textLength="23.39" lengthAdjust="spacingAndGlyphs" stroke-width="1.27">c</tspan><tspan x="1668.7" y="340.7" font-size="54.0" textLength="25.57" lengthAdjust="spacingAndGlyphs" stroke-width="1.84">y</tspan></text>
<text y="327" fill="#c4281f" stroke="#c4281f" stroke-linejoin="round" style="font-family:'DejaVu Sans',sans-serif;font-weight:200"><tspan x="1716.4" y="327" font-size="32.7" stroke-width="2.06">i</tspan><tspan x="1728.9" y="327" font-size="32.7" textLength="26.96" lengthAdjust="spacingAndGlyphs" stroke-width="1.27">n</tspan><tspan x="1760.4" y="327" font-size="41.5" stroke-width="1.62">d</tspan><tspan x="1791.3" y="327" font-size="32.7" textLength="26.18" lengthAdjust="spacingAndGlyphs" stroke-width="1.27">e</tspan><tspan x="1821.9" y="338.7" font-size="54.0" textLength="24.68" lengthAdjust="spacingAndGlyphs" stroke-width="2.28">p</tspan><tspan x="1852.6" y="327" font-size="32.7" textLength="26.18" lengthAdjust="spacingAndGlyphs" stroke-width="1.27">e</tspan><tspan x="1882.8" y="327" font-size="32.7" textLength="26.96" lengthAdjust="spacingAndGlyphs" stroke-width="1.27">n</tspan><tspan x="1914.4" y="327" font-size="41.5" stroke-width="1.62">d</tspan><tspan x="1945.3" y="327" font-size="32.7" textLength="26.18" lengthAdjust="spacingAndGlyphs" stroke-width="1.27">e</tspan><tspan x="1975.5" y="327" font-size="32.7" textLength="26.96" lengthAdjust="spacingAndGlyphs" stroke-width="1.27">n</tspan><tspan x="2007.3" y="327" font-size="50.2" textLength="26.58" lengthAdjust="spacingAndGlyphs" stroke-width="0.24">t</tspan></text>
<text y="445" fill="#722387" stroke="#722387" stroke-linejoin="round" style="font-family:'DejaVu Sans',sans-serif;font-weight:200"><tspan x="133.2" y="445" font-size="48.0" stroke-width="1.30">B</tspan><tspan x="168.2" y="445" font-size="30.0" textLength="19.73" lengthAdjust="spacingAndGlyphs" stroke-width="0.89">r</tspan><tspan x="196.9" y="445" font-size="30.0" stroke-width="2.20">i</tspan><tspan x="210.8" y="445" font-size="30.0" textLength="23.99" lengthAdjust="spacingAndGlyphs" stroke-width="1.42">e</tspan><tspan x="241.1" y="445" font-size="44.7" textLength="23.62" lengthAdjust="spacingAndGlyphs" stroke-width="0.25">f</tspan><tspan x="271.6" y="445" font-size="44.7" stroke-width="1.46">l</tspan><tspan x="288.6" y="455.7" font-size="49.5" textLength="23.44" lengthAdjust="spacingAndGlyphs" stroke-width="2.06">y</tspan></text>
<text y="448" fill="#722387" stroke="#722387" stroke-linejoin="round" style="font-family:'DejaVu Sans',sans-serif;font-weight:200"><tspan x="386.4" y="448" font-size="30.0" textLength="35.02" lengthAdjust="spacingAndGlyphs" stroke-width="0.50">a</tspan></text>
<text y="450" fill="#722387" stroke="#722387" stroke-linejoin="round" style="font-family:'DejaVu Sans',sans-serif;font-weight:200"><tspan x="458.2" y="450" font-size="48.0" stroke-width="1.30">P</tspan><tspan x="494.3" y="450" font-size="48.0" stroke-width="1.30">S</tspan><tspan x="528.9" y="450" font-size="48.0" stroke-width="1.30">D</tspan></text>
<text y="448" fill="#722387" stroke="#722387" stroke-linejoin="round" style="font-family:'DejaVu Sans',sans-serif;font-weight:200"><tspan x="595.7" y="448" font-size="30.0" stroke-width="2.20">i</tspan><tspan x="621.4" y="448" font-size="30.0" textLength="20.32" lengthAdjust="spacingAndGlyphs" stroke-width="1.42">s</tspan></text>
<text y="448" fill="#722387" stroke="#722387" stroke-linejoin="round" style="font-family:'DejaVu Sans',sans-serif;font-weight:200"><tspan x="693.0" y="458.7" font-size="49.5" stroke-width="1.23">j</tspan><tspan x="719.4" y="448" font-size="30.0" textLength="24.72" lengthAdjust="spacingAndGlyphs" stroke-width="1.42">u</tspan><tspan x="759.2" y="448" font-size="30.0" textLength="20.32" lengthAdjust="spacingAndGlyphs" stroke-width="1.42">s</tspan><tspan x="796.2" y="448" font-size="46.1" textLength="24.42" lengthAdjust="spacingAndGlyphs" stroke-width="0.46">t</tspan></text>
<text y="444" fill="#722387" stroke="#722387" stroke-linejoin="round" style="font-family:'DejaVu Sans',sans-serif;font-weight:200"><tspan x="850.5" y="444" font-size="46.1" textLength="24.42" lengthAdjust="spacingAndGlyphs" stroke-width="0.46">t</tspan><tspan x="883.8" y="444" font-size="38.1" stroke-width="1.79">h</tspan><tspan x="916.9" y="444" font-size="30.0" textLength="23.99" lengthAdjust="spacingAndGlyphs" stroke-width="1.42">e</tspan></text>
<text y="448" fill="#722387" stroke="#722387" stroke-linejoin="round" style="font-family:'DejaVu Sans',sans-serif;font-weight:200"><tspan x="961.7" y="448" font-size="30.0" textLength="37.99" lengthAdjust="spacingAndGlyphs" stroke-width="1.42">m</tspan><tspan x="1007.1" y="448" font-size="30.0" textLength="23.99" lengthAdjust="spacingAndGlyphs" stroke-width="1.42">e</tspan><tspan x="1039.1" y="448" font-size="30.0" textLength="23.90" lengthAdjust="spacingAndGlyphs" stroke-width="1.42">a</tspan><tspan x="1070.0" y="448" font-size="30.0" textLength="20.32" lengthAdjust="spacingAndGlyphs" stroke-width="1.42">s</tspan><tspan x="1097.8" y="448" font-size="30.0" textLength="24.72" lengthAdjust="spacingAndGlyphs" stroke-width="1.42">u</tspan><tspan x="1127.4" y="448" font-size="30.0" textLength="19.73" lengthAdjust="spacingAndGlyphs" stroke-width="0.89">r</tspan><tspan x="1158.9" y="448" font-size="30.0" textLength="23.99" lengthAdjust="spacingAndGlyphs" stroke-width="1.42">e</tspan></text>
<text y="447" fill="#722387" stroke="#722387" stroke-linejoin="round" style="font-family:'DejaVu Sans',sans-serif;font-weight:200"><tspan x="1215.3" y="447" font-size="30.0" textLength="23.86" lengthAdjust="spacingAndGlyphs" stroke-width="1.42">o</tspan><tspan x="1242.5" y="447" font-size="44.7" textLength="23.62" lengthAdjust="spacingAndGlyphs" stroke-width="0.25">f</tspan></text>
<text y="447" fill="#722387" stroke="#722387" stroke-linejoin="round" style="font-family:'DejaVu Sans',sans-serif;font-weight:200"><tspan x="1290.5" y="447" font-size="46.1" textLength="24.42" lengthAdjust="spacingAndGlyphs" stroke-width="0.46">t</tspan><tspan x="1319.8" y="447" font-size="38.1" stroke-width="1.79">h</tspan><tspan x="1348.9" y="447" font-size="30.0" textLength="23.99" lengthAdjust="spacingAndGlyphs" stroke-width="1.42">e</tspan></text>
<text y="449" fill="#722387" stroke="#722387" stroke-linejoin="round" style="font-family:'DejaVu Sans',sans-serif;font-weight:200"><tspan x="1397.1" y="459.7" font-size="49.5" textLength="22.62" lengthAdjust="spacingAndGlyphs" stroke-width="2.49">p</tspan><tspan x="1427.9" y="449" font-size="30.0" textLength="23.86" lengthAdjust="spacingAndGlyphs" stroke-width="1.42">o</tspan><tspan x="1460.2" y="449" font-size="30.0" textLength="31.90" lengthAdjust="spacingAndGlyphs" stroke-width="1.42">w</tspan><tspan x="1499.5" y="449" font-size="30.0" textLength="23.99" lengthAdjust="spacingAndGlyphs" stroke-width="1.42">e</tspan><tspan x="1528.8" y="449" font-size="30.0" textLength="19.73" lengthAdjust="spacingAndGlyphs" stroke-width="0.89">r</tspan></text>
<text y="449" fill="#722387" stroke="#722387" stroke-linejoin="round" style="font-family:'DejaVu Sans',sans-serif;font-weight:200"><tspan x="1573.7" y="449" font-size="30.0" stroke-width="2.20">i</tspan><tspan x="1596.3" y="449" font-size="30.0" textLength="24.72" lengthAdjust="spacingAndGlyphs" stroke-width="1.42">n</tspan></text>
<text y="449" fill="#722387" stroke="#722387" stroke-linejoin="round" style="font-family:'DejaVu Sans',sans-serif;font-weight:200"><tspan x="1643.0" y="449" font-size="30.0" textLength="30.64" lengthAdjust="spacingAndGlyphs" stroke-width="0.80">a</tspan></text>
<text y="449" fill="#722387" stroke="#722387" stroke-linejoin="round" style="font-family:'DejaVu Sans',sans-serif;font-weight:200"><tspan x="1698.3" y="449" font-size="30.0" textLength="20.32" lengthAdjust="spacingAndGlyphs" stroke-width="1.42">s</tspan><tspan x="1728.7" y="449" font-size="30.0" stroke-width="2.20">i</tspan><tspan x="1746.7" y="459.7" font-size="49.5" textLength="22.28" lengthAdjust="spacingAndGlyphs" stroke-width="2.32">g</tspan><tspan x="1778.3" y="449" font-size="30.0" textLength="24.72" lengthAdjust="spacingAndGlyphs" stroke-width="1.42">n</tspan><tspan x="1812.1" y="449" font-size="30.0" textLength="23.90" lengthAdjust="spacingAndGlyphs" stroke-width="1.42">a</tspan><tspan x="1842.8" y="449" font-size="44.7" stroke-width="1.46">l</tspan></text>
<text y="452" fill="#722387" stroke="#722387" stroke-linejoin="round" style="font-family:'DejaVu Sans',sans-serif;font-weight:200"><tspan x="1891.8" y="452" font-size="38.1" stroke-width="1.79">b</tspan><tspan x="1920.9" y="452" font-size="30.0" textLength="23.99" lengthAdjust="spacingAndGlyphs" stroke-width="1.42">e</tspan><tspan x="1950.0" y="452" font-size="46.1" textLength="24.42" lengthAdjust="spacingAndGlyphs" stroke-width="0.46">t</tspan><tspan x="1980.0" y="452" font-size="30.0" textLength="31.90" lengthAdjust="spacingAndGlyphs" stroke-width="1.42">w</tspan><tspan x="2016.2" y="452" font-size="30.0" textLength="23.99" lengthAdjust="spacingAndGlyphs" stroke-width="1.42">e</tspan><tspan x="2045.1" y="452" font-size="30.0" textLength="23.99" lengthAdjust="spacingAndGlyphs" stroke-width="1.42">e</tspan><tspan x="2072.3" y="452" font-size="30.0" textLength="24.72" lengthAdjust="spacingAndGlyphs" stroke-width="1.42">n</tspan></text>
<text y="562" fill="#722387" stroke="#722387" stroke-linejoin="round" style="font-family:'DejaVu Sans',sans-serif;font-weight:200"><tspan x="131.3" y="562" font-size="50.2" textLength="26.58" lengthAdjust="spacingAndGlyphs" stroke-width="0.24">t</tspan><tspan x="164.2" y="562" font-size="30.9" textLength="32.86" lengthAdjust="spacingAndGlyphs" stroke-width="1.37">w</tspan><tspan x="202.3" y="562" font-size="30.9" textLength="24.58" lengthAdjust="spacingAndGlyphs" stroke-width="1.37">o</tspan></text>
<text y="565" fill="#722387" stroke="#722387" stroke-linejoin="round" style="font-family:'DejaVu Sans',sans-serif;font-weight:200"><tspan x="246.1" y="565" font-size="48.7" textLength="25.71" lengthAdjust="spacingAndGlyphs" stroke-width="0.04">f</tspan><tspan x="278.3" y="565" font-size="30.9" textLength="20.33" lengthAdjust="spacingAndGlyphs" stroke-width="0.84">r</tspan><tspan x="308.4" y="565" font-size="30.9" textLength="24.72" lengthAdjust="spacingAndGlyphs" stroke-width="1.37">e</tspan><tspan x="339.7" y="576.0" font-size="51.0" textLength="23.31" lengthAdjust="spacingAndGlyphs" stroke-width="2.42">q</tspan><tspan x="367.2" y="565" font-size="30.9" textLength="25.47" lengthAdjust="spacingAndGlyphs" stroke-width="1.37">u</tspan><tspan x="397.8" y="565" font-size="30.9" textLength="24.72" lengthAdjust="spacingAndGlyphs" stroke-width="1.37">e</tspan><tspan x="427.2" y="565" font-size="30.9" textLength="25.47" lengthAdjust="spacingAndGlyphs" stroke-width="1.37">n</tspan><tspan x="458.2" y="565" font-size="30.9" textLength="22.09" lengthAdjust="spacingAndGlyphs" stroke-width="1.37">c</tspan><tspan x="486.7" y="565" font-size="30.9" stroke-width="2.15">i</tspan><tspan x="500.9" y="565" font-size="30.9" textLength="24.72" lengthAdjust="spacingAndGlyphs" stroke-width="1.37">e</tspan><tspan x="531.9" y="565" font-size="30.9" textLength="20.93" lengthAdjust="spacingAndGlyphs" stroke-width="1.37">s</tspan></text>
<text y="560" fill="#722387" stroke="#722387" stroke-linejoin="round" style="font-family:'DejaVu Sans',sans-serif;font-weight:200"><tspan x="761.8" y="560" font-size="30.9" textLength="24.62" lengthAdjust="spacingAndGlyphs" stroke-width="1.37">a</tspan><tspan x="801.7" y="560" font-size="30.9" textLength="25.47" lengthAdjust="spacingAndGlyphs" stroke-width="1.37">n</tspan><tspan x="844.5" y="560" font-size="40.6" stroke-width="1.67">d</tspan></text>
<text y="563" fill="#722387" stroke="#722387" stroke-linejoin="round" style="font-family:'DejaVu Sans',sans-serif;font-weight:200"><tspan x="1045.9" y="563" font-size="52.2" stroke-width="1.09">W</tspan><tspan x="1098.3" y="563" font-size="30.9" textLength="24.72" lengthAdjust="spacingAndGlyphs" stroke-width="1.37">e</tspan></text>
<text y="561" fill="#722387" stroke="#722387" stroke-linejoin="round" style="font-family:'DejaVu Sans',sans-serif;font-weight:200"><tspan x="1152.6" y="561" font-size="30.9" textLength="32.86" lengthAdjust="spacingAndGlyphs" stroke-width="1.37">w</tspan><tspan x="1194.7" y="561" font-size="30.9" stroke-width="2.15">i</tspan><tspan x="1210.6" y="561" font-size="48.7" stroke-width="1.27">l</tspan><tspan x="1229.2" y="561" font-size="48.7" stroke-width="1.27">l</tspan></text>
<text y="563" fill="#722387" stroke="#722387" stroke-linejoin="round" style="font-family:'DejaVu Sans',sans-serif;font-weight:200"><tspan x="1277.6" y="563" font-size="30.9" textLength="22.09" lengthAdjust="spacingAndGlyphs" stroke-width="1.37">c</tspan><tspan x="1308.4" y="563" font-size="30.9" textLength="24.62" lengthAdjust="spacingAndGlyphs" stroke-width="1.37">a</tspan><tspan x="1337.5" y="563" font-size="48.7" stroke-width="1.27">l</tspan><tspan x="1354.2" y="563" font-size="48.7" stroke-width="1.27">l</tspan></text>
<text y="560" fill="#722387" stroke="#722387" stroke-linejoin="round" style="font-family:'DejaVu Sans',sans-serif;font-weight:200"><tspan x="1403.3" y="560" font-size="50.2" textLength="26.58" lengthAdjust="spacingAndGlyphs" stroke-width="0.24">t</tspan><tspan x="1434.8" y="560" font-size="40.6" stroke-width="1.67">h</tspan><tspan x="1465.8" y="560" font-size="30.9" textLength="24.72" lengthAdjust="spacingAndGlyphs" stroke-width="1.37">e</tspan><tspan x="1496.4" y="560" font-size="30.9" stroke-width="2.15">i</tspan><tspan x="1508.2" y="560" font-size="30.9" textLength="20.33" lengthAdjust="spacingAndGlyphs" stroke-width="0.84">r</tspan></text>
<text y="565" fill="#722387" stroke="#722387" stroke-linejoin="round" style="font-family:'DejaVu Sans',sans-serif;font-weight:200"><tspan x="1567.2" y="565" font-size="40.6" stroke-width="1.67">d</tspan><tspan x="1593.2" y="565" font-size="30.9" stroke-width="2.15">i</tspan><tspan x="1603.2" y="565" font-size="48.7" textLength="25.71" lengthAdjust="spacingAndGlyphs" stroke-width="0.04">f</tspan><tspan x="1633.7" y="565" font-size="48.7" textLength="25.71" lengthAdjust="spacingAndGlyphs" stroke-width="0.04">f</tspan><tspan x="1664.4" y="565" font-size="30.9" textLength="24.72" lengthAdjust="spacingAndGlyphs" stroke-width="1.37">e</tspan><tspan x="1688.6" y="565" font-size="30.9" textLength="20.33" lengthAdjust="spacingAndGlyphs" stroke-width="0.84">r</tspan><tspan x="1714.5" y="565" font-size="30.9" textLength="24.72" lengthAdjust="spacingAndGlyphs" stroke-width="1.37">e</tspan><tspan x="1739.7" y="565" font-size="30.9" textLength="25.47" lengthAdjust="spacingAndGlyphs" stroke-width="1.37">n</tspan><tspan x="1766.5" y="565" font-size="30.9" textLength="22.09" lengthAdjust="spacingAndGlyphs" stroke-width="1.37">c</tspan><tspan x="1791.3" y="565" font-size="30.9" textLength="24.72" lengthAdjust="spacingAndGlyphs" stroke-width="1.37">e</tspan></text>
<text y="560" fill="#722387" stroke="#722387" stroke-linejoin="round" style="font-family:'DejaVu Sans',sans-serif;font-weight:200"><tspan x="1846.3" y="560" font-size="50.2" textLength="26.58" lengthAdjust="spacingAndGlyphs" stroke-width="0.24">t</tspan><tspan x="1881.1" y="560" font-size="40.6" stroke-width="1.67">h</tspan><tspan x="1915.3" y="560" font-size="30.9" textLength="24.72" lengthAdjust="spacingAndGlyphs" stroke-width="1.37">e</tspan></text>
<text y="681" fill="#e0564e" stroke="#e0564e" stroke-linejoin="round" style="font-family:'DejaVu Sans',sans-serif;font-weight:200"><tspan x="141.4" y="681" font-size="41.5" stroke-width="1.62">b</tspan><tspan x="175.5" y="681" font-size="32.7" stroke-width="2.06">i</tspan><tspan x="190.5" y="681" font-size="32.7" textLength="26.96" lengthAdjust="spacingAndGlyphs" stroke-width="1.27">n</tspan></text>
<text y="678" fill="#e0564e" stroke="#e0564e" stroke-linejoin="round" style="font-family:'DejaVu Sans',sans-serif;font-weight:200"><tspan x="240.1" y="678" font-size="48.7" textLength="25.71" lengthAdjust="spacingAndGlyphs" stroke-width="0.04">f</tspan><tspan x="268.7" y="678" font-size="32.7" textLength="21.53" lengthAdjust="spacingAndGlyphs" stroke-width="0.74">r</tspan><tspan x="296.5" y="678" font-size="32.7" textLength="26.18" lengthAdjust="spacingAndGlyphs" stroke-width="1.27">e</tspan><tspan x="325.6" y="689.7" font-size="54.0" textLength="24.68" lengthAdjust="spacingAndGlyphs" stroke-width="2.28">q</tspan><tspan x="350.8" y="678" font-size="32.7" textLength="26.96" lengthAdjust="spacingAndGlyphs" stroke-width="1.27">u</tspan><tspan x="379.2" y="678" font-size="32.7" textLength="26.18" lengthAdjust="spacingAndGlyphs" stroke-width="1.27">e</tspan><tspan x="406.3" y="678" font-size="32.7" textLength="26.96" lengthAdjust="spacingAndGlyphs" stroke-width="1.27">n</tspan><tspan x="435.2" y="678" font-size="32.7" textLength="23.39" lengthAdjust="spacingAndGlyphs" stroke-width="1.27">c</tspan><tspan x="462.7" y="689.7" font-size="54.0" textLength="25.57" lengthAdjust="spacingAndGlyphs" stroke-width="1.84">y</tspan></text>
<text y="795" fill="#2e6e50" stroke="#2e6e50" stroke-linejoin="round" style="font-family:'DejaVu Sans',sans-serif;font-weight:200"><tspan x="122.9" y="795" font-size="50.8" stroke-width="1.16">C</tspan><tspan x="161.6" y="795" font-size="33.6" textLength="26.80" lengthAdjust="spacingAndGlyphs" stroke-width="1.23">a</tspan><tspan x="187.8" y="795" font-size="33.6" textLength="27.71" lengthAdjust="spacingAndGlyphs" stroke-width="1.23">n</tspan></text>
<text y="796" fill="#2e6e50" stroke="#2e6e50" stroke-linejoin="round" style="font-family:'DejaVu Sans',sans-serif;font-weight:200"><tspan x="228.2" y="796" font-size="33.6" textLength="42.60" lengthAdjust="spacingAndGlyphs" stroke-width="1.23">m</tspan><tspan x="271.2" y="796" font-size="33.6" textLength="26.75" lengthAdjust="spacingAndGlyphs" stroke-width="1.23">o</tspan><tspan x="300.0" y="796" font-size="41.3" stroke-width="1.63">d</tspan><tspan x="326.9" y="796" font-size="33.6" textLength="26.90" lengthAdjust="spacingAndGlyphs" stroke-width="1.23">e</tspan><tspan x="353.4" y="796" font-size="47.4" stroke-width="1.33">l</tspan></text>
<text y="797" fill="#2e6e50" stroke="#2e6e50" stroke-linejoin="round" style="font-family:'DejaVu Sans',sans-serif;font-weight:200"><tspan x="399.4" y="797" font-size="48.9" textLength="25.86" lengthAdjust="spacingAndGlyphs" stroke-width="0.32">t</tspan><tspan x="431.9" y="797" font-size="41.3" stroke-width="1.63">h</tspan><tspan x="464.0" y="797" font-size="33.6" stroke-width="2.02">i</tspan><tspan x="480.3" y="797" font-size="33.6" textLength="22.78" lengthAdjust="spacingAndGlyphs" stroke-width="1.23">s</tspan></text>
<text y="794" fill="#2e6e50" stroke="#2e6e50" stroke-linejoin="round" style="font-family:'DejaVu Sans',sans-serif;font-weight:200"><tspan x="531.5" y="794" font-size="33.6" textLength="26.80" lengthAdjust="spacingAndGlyphs" stroke-width="1.23">a</tspan><tspan x="562.3" y="794" font-size="33.6" textLength="22.78" lengthAdjust="spacingAndGlyphs" stroke-width="1.23">s</tspan></text>
<text y="795" fill="#2e6e50" stroke="#2e6e50" stroke-linejoin="round" style="font-family:'DejaVu Sans',sans-serif;font-weight:200"><tspan x="623.4" y="795" font-size="48.9" textLength="25.86" lengthAdjust="spacingAndGlyphs" stroke-width="0.32">t</tspan><tspan x="655.7" y="795" font-size="41.3" stroke-width="1.63">h</tspan><tspan x="688.4" y="795" font-size="33.6" textLength="26.90" lengthAdjust="spacingAndGlyphs" stroke-width="1.23">e</tspan></text>
<text y="792" fill="#2e6e50" stroke="#2e6e50" stroke-linejoin="round" style="font-family:'DejaVu Sans',sans-serif;font-weight:200"><tspan x="749.4" y="792" font-size="33.6" textLength="24.04" lengthAdjust="spacingAndGlyphs" stroke-width="1.23">c</tspan><tspan x="775.2" y="792" font-size="33.6" textLength="26.75" lengthAdjust="spacingAndGlyphs" stroke-width="1.23">o</tspan><tspan x="801.5" y="792" font-size="33.6" textLength="27.71" lengthAdjust="spacingAndGlyphs" stroke-width="1.23">n</tspan><tspan x="829.6" y="792" font-size="33.6" textLength="25.88" lengthAdjust="spacingAndGlyphs" stroke-width="1.23">v</tspan><tspan x="857.2" y="792" font-size="33.6" textLength="26.75" lengthAdjust="spacingAndGlyphs" stroke-width="1.23">o</tspan><tspan x="883.1" y="792" font-size="47.4" stroke-width="1.33">l</tspan><tspan x="893.8" y="792" font-size="33.6" textLength="27.71" lengthAdjust="spacingAndGlyphs" stroke-width="1.23">u</tspan><tspan x="921.8" y="792" font-size="48.9" textLength="25.86" lengthAdjust="spacingAndGlyphs" stroke-width="0.32">t</tspan><tspan x="948.7" y="792" font-size="33.6" stroke-width="2.02">i</tspan><tspan x="958.5" y="792" font-size="33.6" textLength="26.75" lengthAdjust="spacingAndGlyphs" stroke-width="1.23">o</tspan><tspan x="984.8" y="792" font-size="33.6" textLength="27.71" lengthAdjust="spacingAndGlyphs" stroke-width="1.23">n</tspan></text>
<text y="792" fill="#2e6e50" stroke="#2e6e50" stroke-linejoin="round" style="font-family:'DejaVu Sans',sans-serif;font-weight:200"><tspan x="1024.9" y="792" font-size="33.6" textLength="26.75" lengthAdjust="spacingAndGlyphs" stroke-width="1.23">o</tspan><tspan x="1063.1" y="792" font-size="47.4" textLength="25.01" lengthAdjust="spacingAndGlyphs" stroke-width="0.11">f</tspan></text>
<text y="790" fill="#2e6e50" stroke="#2e6e50" stroke-linejoin="round" style="font-family:'DejaVu Sans',sans-serif;font-weight:200"><tspan x="1119.5" y="790" font-size="33.6" textLength="26.80" lengthAdjust="spacingAndGlyphs" stroke-width="1.23">a</tspan><tspan x="1146.8" y="790" font-size="33.6" textLength="27.71" lengthAdjust="spacingAndGlyphs" stroke-width="1.23">n</tspan></text>
<text y="795" fill="#2e6e50" stroke="#2e6e50" stroke-linejoin="round" style="font-family:'DejaVu Sans',sans-serif;font-weight:200"><tspan x="1192.3" y="795" font-size="33.6" stroke-width="2.02">i</tspan><tspan x="1201.2" y="795" font-size="33.6" textLength="42.60" lengthAdjust="spacingAndGlyphs" stroke-width="1.23">m</tspan><tspan x="1243.1" y="807.0" font-size="55.5" textLength="25.37" lengthAdjust="spacingAndGlyphs" stroke-width="2.21">p</tspan><tspan x="1269.4" y="795" font-size="33.6" textLength="27.71" lengthAdjust="spacingAndGlyphs" stroke-width="1.23">u</tspan><tspan x="1295.7" y="795" font-size="47.4" stroke-width="1.33">l</tspan><tspan x="1308.5" y="795" font-size="33.6" textLength="22.78" lengthAdjust="spacingAndGlyphs" stroke-width="1.23">s</tspan><tspan x="1333.4" y="795" font-size="33.6" textLength="26.90" lengthAdjust="spacingAndGlyphs" stroke-width="1.23">e</tspan></text>
<text y="942" fill="#722387" stroke="#722387" stroke-linejoin="round" style="font-family:'DejaVu Sans',sans-serif;font-weight:200"><tspan x="533.9" y="942" font-size="34.5" textLength="27.63" lengthAdjust="spacingAndGlyphs" stroke-width="1.18">e</tspan><tspan x="559.4" y="942" font-size="40.8" stroke-width="1.66">l</tspan><tspan x="568.6" y="942" font-size="34.5" textLength="23.40" lengthAdjust="spacingAndGlyphs" stroke-width="1.18">s</tspan><tspan x="591.4" y="942" font-size="34.5" textLength="27.63" lengthAdjust="spacingAndGlyphs" stroke-width="1.18">e</tspan><tspan x="618.7" y="942" font-size="34.5" textLength="36.73" lengthAdjust="spacingAndGlyphs" stroke-width="1.18">w</tspan><tspan x="653.1" y="942" font-size="38.2" stroke-width="1.79">h</tspan><tspan x="676.0" y="942" font-size="34.5" textLength="27.63" lengthAdjust="spacingAndGlyphs" stroke-width="1.18">e</tspan><tspan x="699.9" y="942" font-size="34.5" textLength="22.72" lengthAdjust="spacingAndGlyphs" stroke-width="0.64">r</tspan><tspan x="725.7" y="942" font-size="34.5" textLength="27.63" lengthAdjust="spacingAndGlyphs" stroke-width="1.18">e</tspan></text>
<text y="908" fill="#2e6e50" stroke="#2e6e50" stroke-linejoin="round" style="font-family:'DejaVu Sans',sans-serif;font-weight:200"><tspan x="834.9" y="908" font-size="34.5" textLength="27.63" lengthAdjust="spacingAndGlyphs" stroke-width="1.18">e</tspan><tspan x="862.0" y="908" font-size="34.5" textLength="28.46" lengthAdjust="spacingAndGlyphs" stroke-width="1.18">n</tspan><tspan x="890.1" y="908" font-size="34.5" textLength="27.52" lengthAdjust="spacingAndGlyphs" stroke-width="1.18">a</tspan><tspan x="917.7" y="908" font-size="34.5" textLength="24.69" lengthAdjust="spacingAndGlyphs" stroke-width="1.18">c</tspan><tspan x="944.9" y="908" font-size="50.2" textLength="26.58" lengthAdjust="spacingAndGlyphs" stroke-width="0.24">t</tspan><tspan x="973.4" y="908" font-size="34.5" textLength="27.63" lengthAdjust="spacingAndGlyphs" stroke-width="1.18">e</tspan><tspan x="1002.5" y="908" font-size="42.4" stroke-width="1.58">d</tspan></text>
<text y="909" fill="#2e6e50" stroke="#2e6e50" stroke-linejoin="round" style="font-family:'DejaVu Sans',sans-serif;font-weight:200"><tspan x="1043.1" y="909" font-size="34.5" textLength="25.44" lengthAdjust="spacingAndGlyphs" stroke-width="1.40">o</tspan><tspan x="1064.0" y="909" font-size="34.5" textLength="26.35" lengthAdjust="spacingAndGlyphs" stroke-width="1.40">n</tspan></text>
<text y="1026" fill="#0a0a0a" stroke="#0a0a0a" stroke-linejoin="round" style="font-family:'DejaVu Sans',sans-serif;font-weight:200"><tspan x="133.9" y="1026" font-size="50.8" stroke-width="1.16">I</tspan><tspan x="180.7" y="1026" font-size="30.9" textLength="25.47" lengthAdjust="spacingAndGlyphs" stroke-width="1.37">n</tspan></text>
<text y="1024" fill="#0a0a0a" stroke="#0a0a0a" stroke-linejoin="round" style="font-family:'DejaVu Sans',sans-serif;font-weight:200"><tspan x="227.2" y="1024" font-size="30.9" textLength="20.93" lengthAdjust="spacingAndGlyphs" stroke-width="1.37">s</tspan><tspan x="254.2" y="1024" font-size="39.9" stroke-width="1.70">h</tspan><tspan x="285.9" y="1024" font-size="30.9" textLength="24.58" lengthAdjust="spacingAndGlyphs" stroke-width="1.37">o</tspan><tspan x="315.5" y="1024" font-size="30.9" textLength="20.33" lengthAdjust="spacingAndGlyphs" stroke-width="0.84">r</tspan><tspan x="346.9" y="1024" font-size="48.9" textLength="25.86" lengthAdjust="spacingAndGlyphs" stroke-width="0.32">t</tspan></text>
<text y="1025" fill="#0a0a0a" stroke="#0a0a0a" stroke-linejoin="round" style="font-family:'DejaVu Sans',sans-serif;font-weight:200"><tspan x="396.6" y="1025" font-size="30.9" textLength="32.86" lengthAdjust="spacingAndGlyphs" stroke-width="1.37">w</tspan><tspan x="433.3" y="1025" font-size="30.9" textLength="24.72" lengthAdjust="spacingAndGlyphs" stroke-width="1.37">e</tspan></text>
<text y="1025" fill="#0a0a0a" stroke="#0a0a0a" stroke-linejoin="round" style="font-family:'DejaVu Sans',sans-serif;font-weight:200"><tspan x="473.9" y="1036.0" font-size="51.0" textLength="22.95" lengthAdjust="spacingAndGlyphs" stroke-width="2.25">g</tspan><tspan x="505.6" y="1025" font-size="30.9" textLength="24.72" lengthAdjust="spacingAndGlyphs" stroke-width="1.37">e</tspan><tspan x="538.9" y="1025" font-size="48.9" textLength="25.86" lengthAdjust="spacingAndGlyphs" stroke-width="0.32">t</tspan></text>
<text y="1027" fill="#0a0a0a" stroke="#0a0a0a" stroke-linejoin="round" style="font-family:'DejaVu Sans',sans-serif;font-weight:200"><tspan x="602.6" y="1027" font-size="39.9" stroke-width="1.70">b</tspan><tspan x="630.8" y="1027" font-size="30.9" textLength="24.58" lengthAdjust="spacingAndGlyphs" stroke-width="1.37">o</tspan><tspan x="658.5" y="1027" font-size="48.9" textLength="25.86" lengthAdjust="spacingAndGlyphs" stroke-width="0.32">t</tspan><tspan x="685.8" y="1027" font-size="39.9" stroke-width="1.70">h</tspan></text>
<text y="1027" fill="#0a0a0a" stroke="#0a0a0a" stroke-linejoin="round" style="font-family:'DejaVu Sans',sans-serif;font-weight:200"><tspan x="730.2" y="1027" font-size="30.9" textLength="20.93" lengthAdjust="spacingAndGlyphs" stroke-width="1.37">s</tspan><tspan x="756.8" y="1027" font-size="30.9" stroke-width="2.15">i</tspan><tspan x="770.9" y="1027" font-size="39.9" stroke-width="1.70">d</tspan><tspan x="801.1" y="1027" font-size="30.9" textLength="24.72" lengthAdjust="spacingAndGlyphs" stroke-width="1.37">e</tspan><tspan x="831.9" y="1027" font-size="30.9" textLength="20.93" lengthAdjust="spacingAndGlyphs" stroke-width="1.37">s</tspan></text>
<text y="1027" fill="#0a0a0a" stroke="#0a0a0a" stroke-linejoin="round" style="font-family:'DejaVu Sans',sans-serif;font-weight:200"><tspan x="881.3" y="1027" font-size="30.9" textLength="23.44" lengthAdjust="spacingAndGlyphs" stroke-width="1.50">o</tspan><tspan x="902.3" y="1027" font-size="47.4" textLength="23.85" lengthAdjust="spacingAndGlyphs" stroke-width="0.24">f</tspan></text>
<text y="1027" fill="#0a0a0a" stroke="#0a0a0a" stroke-linejoin="round" style="font-family:'DejaVu Sans',sans-serif;font-weight:200"><tspan x="948.4" y="1027" font-size="48.9" textLength="25.86" lengthAdjust="spacingAndGlyphs" stroke-width="0.32">t</tspan><tspan x="984.5" y="1027" font-size="39.9" stroke-width="1.70">h</tspan><tspan x="1020.3" y="1027" font-size="30.9" textLength="24.72" lengthAdjust="spacingAndGlyphs" stroke-width="1.37">e</tspan></text>
<text y="1022" fill="#0a0a0a" stroke="#0a0a0a" stroke-linejoin="round" style="font-family:'DejaVu Sans',sans-serif;font-weight:200"><tspan x="1091.4" y="1022" font-size="48.9" textLength="25.86" lengthAdjust="spacingAndGlyphs" stroke-width="0.32">t</tspan><tspan x="1122.4" y="1022" font-size="30.9" textLength="32.86" lengthAdjust="spacingAndGlyphs" stroke-width="1.37">w</tspan><tspan x="1159.3" y="1022" font-size="30.9" textLength="24.58" lengthAdjust="spacingAndGlyphs" stroke-width="1.37">o</tspan></text>
<text y="1026" fill="#0a0a0a" stroke="#0a0a0a" stroke-linejoin="round" style="font-family:'DejaVu Sans',sans-serif;font-weight:200"><tspan x="1212.2" y="1026" font-size="30.9" textLength="20.93" lengthAdjust="spacingAndGlyphs" stroke-width="1.37">s</tspan><tspan x="1238.5" y="1026" font-size="30.9" stroke-width="2.15">i</tspan><tspan x="1252.3" y="1026" font-size="39.9" stroke-width="1.70">d</tspan><tspan x="1282.3" y="1026" font-size="30.9" textLength="24.72" lengthAdjust="spacingAndGlyphs" stroke-width="1.37">e</tspan><tspan x="1312.8" y="1026" font-size="39.9" stroke-width="1.70">d</tspan></text>
<text y="1086" fill="#0a0a0a" stroke="#0a0a0a" stroke-linejoin="round" style="font-family:'DejaVu Sans',sans-serif;font-weight:200"><tspan x="147.3" y="1086" font-size="38.1" stroke-width="1.79">d</tspan><tspan x="175.1" y="1086" font-size="30.0" stroke-width="2.20">i</tspan><tspan x="187.9" y="1086" font-size="30.0" textLength="20.32" lengthAdjust="spacingAndGlyphs" stroke-width="1.42">s</tspan><tspan x="213.8" y="1086" font-size="46.1" textLength="24.42" lengthAdjust="spacingAndGlyphs" stroke-width="0.46">t</tspan><tspan x="241.2" y="1086" font-size="30.0" textLength="19.73" lengthAdjust="spacingAndGlyphs" stroke-width="0.89">r</tspan><tspan x="268.8" y="1086" font-size="30.0" stroke-width="2.20">i</tspan><tspan x="280.3" y="1086" font-size="38.1" stroke-width="1.79">b</tspan><tspan x="308.5" y="1086" font-size="30.0" textLength="24.72" lengthAdjust="spacingAndGlyphs" stroke-width="1.42">u</tspan><tspan x="337.5" y="1086" font-size="46.1" textLength="24.42" lengthAdjust="spacingAndGlyphs" stroke-width="0.46">t</tspan><tspan x="366.9" y="1086" font-size="30.0" stroke-width="2.20">i</tspan><tspan x="379.7" y="1086" font-size="30.0" textLength="23.86" lengthAdjust="spacingAndGlyphs" stroke-width="1.42">o</tspan><tspan x="407.3" y="1086" font-size="30.0" textLength="24.72" lengthAdjust="spacingAndGlyphs" stroke-width="1.42">n</tspan></text>
<text y="1086" fill="#0a0a0a" stroke="#0a0a0a" stroke-linejoin="round" style="font-family:'DejaVu Sans',sans-serif;font-weight:200"><tspan x="467.7" y="1086" font-size="30.0" stroke-width="2.20">i</tspan><tspan x="489.3" y="1086" font-size="30.0" textLength="24.72" lengthAdjust="spacingAndGlyphs" stroke-width="1.42">n</tspan></text>
<text y="1083" fill="#0a0a0a" stroke="#0a0a0a" stroke-linejoin="round" style="font-family:'DejaVu Sans',sans-serif;font-weight:200"><tspan x="543.2" y="1083" font-size="30.0" textLength="29.18" lengthAdjust="spacingAndGlyphs" stroke-width="0.91">a</tspan></text>
<text y="1086" fill="#0a0a0a" stroke="#0a0a0a" stroke-linejoin="round" style="font-family:'DejaVu Sans',sans-serif;font-weight:200"><tspan x="613.1" y="1096.7" font-size="49.5" textLength="22.62" lengthAdjust="spacingAndGlyphs" stroke-width="2.49">p</tspan><tspan x="635.9" y="1086" font-size="30.0" textLength="19.73" lengthAdjust="spacingAndGlyphs" stroke-width="0.89">r</tspan><tspan x="661.5" y="1086" font-size="30.0" textLength="23.86" lengthAdjust="spacingAndGlyphs" stroke-width="1.42">o</tspan><tspan x="688.4" y="1086" font-size="30.0" textLength="21.44" lengthAdjust="spacingAndGlyphs" stroke-width="1.42">c</tspan><tspan x="713.0" y="1086" font-size="30.0" textLength="23.99" lengthAdjust="spacingAndGlyphs" stroke-width="1.42">e</tspan><tspan x="739.5" y="1086" font-size="30.0" textLength="20.32" lengthAdjust="spacingAndGlyphs" stroke-width="1.42">s</tspan><tspan x="762.4" y="1086" font-size="30.0" textLength="20.32" lengthAdjust="spacingAndGlyphs" stroke-width="1.42">s</tspan></text>
<text y="1087" fill="#0a0a0a" stroke="#0a0a0a" stroke-linejoin="round" style="font-family:'DejaVu Sans',sans-serif;font-weight:200"><tspan x="813.7" y="1087" font-size="30.0" textLength="21.44" lengthAdjust="spacingAndGlyphs" stroke-width="1.42">c</tspan><tspan x="839.8" y="1087" font-size="30.0" textLength="23.90" lengthAdjust="spacingAndGlyphs" stroke-width="1.42">a</tspan><tspan x="864.4" y="1087" font-size="44.7" stroke-width="1.46">l</tspan><tspan x="876.8" y="1087" font-size="44.7" stroke-width="1.46">l</tspan><tspan x="891.3" y="1087" font-size="30.0" textLength="23.99" lengthAdjust="spacingAndGlyphs" stroke-width="1.42">e</tspan><tspan x="919.8" y="1087" font-size="38.1" stroke-width="1.79">d</tspan></text>
<text y="1088" fill="#e0564e" stroke="#e0564e" stroke-linejoin="round" style="font-family:'DejaVu Sans',sans-serif;font-weight:200"><tspan x="987.7" y="1088" font-size="30.0" textLength="24.72" lengthAdjust="spacingAndGlyphs" stroke-width="1.42">n</tspan><tspan x="1016.1" y="1088" font-size="30.0" textLength="23.86" lengthAdjust="spacingAndGlyphs" stroke-width="1.42">o</tspan><tspan x="1044.2" y="1088" font-size="30.0" stroke-width="2.20">i</tspan><tspan x="1056.7" y="1088" font-size="30.0" textLength="20.32" lengthAdjust="spacingAndGlyphs" stroke-width="1.42">s</tspan><tspan x="1081.9" y="1088" font-size="30.0" textLength="23.99" lengthAdjust="spacingAndGlyphs" stroke-width="1.42">e</tspan></text>
<text y="1087" fill="#e0564e" stroke="#e0564e" stroke-linejoin="round" style="font-family:'DejaVu Sans',sans-serif;font-weight:200"><tspan x="1127.3" y="1087" font-size="44.7" textLength="23.62" lengthAdjust="spacingAndGlyphs" stroke-width="0.25">f</tspan><tspan x="1158.3" y="1087" font-size="30.0" textLength="23.86" lengthAdjust="spacingAndGlyphs" stroke-width="1.42">o</tspan><tspan x="1184.7" y="1087" font-size="44.7" stroke-width="1.46">l</tspan><tspan x="1199.5" y="1087" font-size="38.1" stroke-width="1.79">d</tspan><tspan x="1226.6" y="1087" font-size="30.0" stroke-width="2.20">i</tspan><tspan x="1237.4" y="1087" font-size="30.0" textLength="24.72" lengthAdjust="spacingAndGlyphs" stroke-width="1.42">n</tspan><tspan x="1265.3" y="1097.7" font-size="49.5" textLength="22.28" lengthAdjust="spacingAndGlyphs" stroke-width="2.32">g</tspan></text>
<text y="1146" fill="#0a0a0a" stroke="#0a0a0a" stroke-linejoin="round" style="font-family:'DejaVu Sans',sans-serif;font-weight:200"><tspan x="144.3" y="1146" font-size="50.2" textLength="26.58" lengthAdjust="spacingAndGlyphs" stroke-width="0.24">t</tspan><tspan x="171.0" y="1146" font-size="32.7" textLength="26.03" lengthAdjust="spacingAndGlyphs" stroke-width="1.27">o</tspan></text>
<text y="1146" fill="#0a0a0a" stroke="#0a0a0a" stroke-linejoin="round" style="font-family:'DejaVu Sans',sans-serif;font-weight:200"><tspan x="226.8" y="1157.7" font-size="54.0" textLength="24.30" lengthAdjust="spacingAndGlyphs" stroke-width="2.11">g</tspan><tspan x="255.6" y="1146" font-size="32.7" textLength="26.18" lengthAdjust="spacingAndGlyphs" stroke-width="1.27">e</tspan><tspan x="286.3" y="1146" font-size="50.2" textLength="26.58" lengthAdjust="spacingAndGlyphs" stroke-width="0.24">t</tspan></text>
<text transform="translate(1326.3,214.1) scale(1.164,1.000)" font-size="52.2" fill="#3078f0" style="font-family:'DejaVu Sans',sans-serif;font-weight:200" stroke="#3078f0" stroke-width="0.54" stroke-linejoin="round">“</text>
<text transform="translate(1684.8,201.7) scale(1.350,1.000)" font-size="43.5" fill="#3078f0" style="font-family:'DejaVu Sans',sans-serif;font-weight:200" stroke="#3078f0" stroke-width="0.66" stroke-linejoin="round">”</text>
<text transform="translate(327.9,449.3) scale(1.350,1.235)" font-size="72.0" fill="#722387" style="font-family:'DejaVu Sans',sans-serif;font-weight:200">,</text>
<text transform="translate(594.0,567.0) scale(1.900,1.000)" font-size="52.6" fill="#722387" style="font-family:'DejaVu Sans',sans-serif;font-weight:200">f</text>
<text x="640.3" y="574.8" font-size="24.3" fill="#722387" letter-spacing="3.11" style="font-family:'DejaVu Sans',sans-serif;font-weight:200" stroke="#722387" stroke-width="2.28" stroke-linejoin="round">n+1</text>
<text transform="translate(888.5,560.0) scale(1.900,1.000)" font-size="47.4" fill="#722387" style="font-family:'DejaVu Sans',sans-serif;font-weight:200">f</text>
<text transform="translate(928.3,565.0) scale(1.350,1.000)" font-size="17.9" fill="#722387" style="font-family:'DejaVu Sans',sans-serif;font-weight:200" stroke="#722387" stroke-width="1.94" stroke-linejoin="round">n</text>
<text transform="translate(950.4,567.0) scale(1.350,1.190)" font-size="72.0" fill="#722387" style="font-family:'DejaVu Sans',sans-serif;font-weight:200">.</text>
<text transform="translate(547.8,682.0) scale(1.328,1.000)" font-size="56.2" fill="#e0564e" style="font-family:'DejaVu Sans',sans-serif;font-weight:200">Δ</text>
<text transform="translate(603.5,684.0) scale(1.900,1.000)" font-size="52.6" fill="#e0564e" style="font-family:'DejaVu Sans',sans-serif;font-weight:200">f</text>
<text transform="translate(655.9,691.9) scale(1.000,2.092)" font-size="40.6" fill="#e0564e" style="font-family:'DejaVu Sans',sans-serif;font-weight:200">=</text>
<text transform="translate(719.0,684.0) scale(1.900,1.000)" font-size="52.6" fill="#e0564e" style="font-family:'DejaVu Sans',sans-serif;font-weight:200">f</text>
<text x="756.5" y="683.8" font-size="23.0" fill="#e0564e" letter-spacing="7.39" style="font-family:'DejaVu Sans',sans-serif;font-weight:200" stroke="#e0564e" stroke-width="2.35" stroke-linejoin="round">n+1</text>
<text transform="translate(845.8,677.8) scale(1.000,1.000)" font-size="42.2" fill="#e0564e" style="font-family:'DejaVu Sans',sans-serif;font-weight:200" stroke="#e0564e" stroke-width="1.39" stroke-linejoin="round">−</text>
<text transform="translate(899.4,680.0) scale(1.806,1.000)" font-size="50.0" fill="#e0564e" style="font-family:'DejaVu Sans',sans-serif;font-weight:200">f</text>
<text transform="translate(930.0,685.0) scale(1.350,1.000)" font-size="19.6" fill="#e0564e" style="font-family:'DejaVu Sans',sans-serif;font-weight:200" stroke="#e0564e" stroke-width="1.85" stroke-linejoin="round">n</text>
<text x="134.9" y="906.8" font-size="55.1" fill="#722387" letter-spacing="5.71" style="font-family:'DejaVu Sans',sans-serif;font-weight:200" stroke="#722387" stroke-width="0.75" stroke-linejoin="round">h(t)</text>
<text transform="translate(273.1,914.8) scale(1.000,2.048)" font-size="39.1" fill="#722387" style="font-family:'DejaVu Sans',sans-serif;font-weight:200">=</text>
<text transform="translate(337.3,926.5) scale(1.350,1.673)" font-size="72.0" fill="#722387" style="font-family:'DejaVu Sans',sans-serif;font-weight:200">{</text>
<text transform="translate(421.6,850.0) scale(0.915,1.000)" font-size="26.0" fill="#722387" style="font-family:'DejaVu Sans',sans-serif;font-weight:200" stroke="#722387" stroke-width="2.20" stroke-linejoin="round">1</text>
<text transform="translate(414.3,892.0) scale(1.350,1.000)" font-size="43.6" fill="#722387" style="font-family:'DejaVu Sans',sans-serif;font-weight:200" stroke="#722387" stroke-width="0.66" stroke-linejoin="round">τ</text>
<text transform="translate(421.3,940.6) scale(1.350,1.000)" font-size="36.8" fill="#722387" style="font-family:'DejaVu Sans',sans-serif;font-weight:200" stroke="#722387" stroke-width="0.99" stroke-linejoin="round">0</text>
<text x="524.0" y="868.7" font-size="43.0" fill="#722387" letter-spacing="15.04" style="font-family:'DejaVu Sans',sans-serif;font-weight:200" stroke="#722387" stroke-width="1.35" stroke-linejoin="round">|t|</text>
<text transform="translate(614.2,871.5) scale(1.000,1.000)" font-size="48.4" fill="#722387" style="font-family:'DejaVu Sans',sans-serif;font-weight:200" stroke="#722387" stroke-width="1.08" stroke-linejoin="round">&lt;</text>
<text transform="translate(680.5,851.0) scale(1.350,1.000)" font-size="38.2" fill="#722387" style="font-family:'DejaVu Sans',sans-serif;font-weight:200" stroke="#722387" stroke-width="0.93" stroke-linejoin="round">τ</text>
<text transform="translate(691.1,883.0) scale(1.350,1.000)" font-size="25.7" fill="#722387" style="font-family:'DejaVu Sans',sans-serif;font-weight:200" stroke="#722387" stroke-width="1.55" stroke-linejoin="round">2</text>
<text x="1124.3" y="904.9" font-size="47.2" fill="#c4281f" letter-spacing="8.20" style="font-family:'DejaVu Sans',sans-serif;font-weight:200" stroke="#c4281f" stroke-width="1.14" stroke-linejoin="round">P(t)</text>
<text transform="translate(950.9,1089.1) scale(1.232,1.000)" font-size="52.2" fill="#e0564e" style="font-family:'DejaVu Sans',sans-serif;font-weight:200" stroke="#e0564e" stroke-width="0.42" stroke-linejoin="round">“</text>
<text transform="translate(1288.9,1097.0) scale(0.893,1.027)" font-size="72.0" fill="#e0564e" style="font-family:'DejaVu Sans',sans-serif;font-weight:200">”</text>
<text transform="translate(493.4,1176.6) scale(1.900,1.000)" font-size="41.1" fill="#0a0a0a" style="font-family:'DejaVu Sans',sans-serif;font-weight:200" stroke="#0a0a0a" stroke-width="0.18" stroke-linejoin="round">σ</text>
<text transform="translate(534.8,1186.1) scale(1.236,1.000)" font-size="23.4" fill="#0a0a0a" style="font-family:'DejaVu Sans',sans-serif;font-weight:200" stroke="#0a0a0a" stroke-width="1.85" stroke-linejoin="round">p</text>
<text transform="translate(564.2,1146.0) scale(1.349,1.000)" font-size="21.6" fill="#0a0a0a" style="font-family:'DejaVu Sans',sans-serif;font-weight:200" stroke="#0a0a0a" stroke-width="1.76" stroke-linejoin="round">2</text>
<text transform="translate(594.9,1190.8) scale(1.000,1.846)" font-size="40.6" fill="#0a0a0a" style="font-family:'DejaVu Sans',sans-serif;font-weight:200">=</text>
<text transform="translate(668.8,1177.0) scale(0.862,1.000)" font-size="55.3" fill="#0a0a0a" style="font-family:'DejaVu Sans',sans-serif;font-weight:200" stroke="#0a0a0a" stroke-width="0.74" stroke-linejoin="round">h</text>
<text transform="translate(708.4,1181.0) scale(1.350,1.000)" font-size="40.0" fill="#0a0a0a" style="font-family:'DejaVu Sans',sans-serif;font-weight:200" stroke="#0a0a0a" stroke-width="0.84" stroke-linejoin="round">ν</text>
<text transform="translate(743.5,1181.9) scale(1.350,1.000)" font-size="11.8" fill="#0a0a0a" style="font-family:'DejaVu Sans',sans-serif;font-weight:200" stroke="#0a0a0a" stroke-width="2.24" stroke-linejoin="round">0</text>
<text transform="translate(777.1,1176.4) scale(0.860,1.000)" font-size="56.8" fill="#0a0a0a" style="font-family:'DejaVu Sans',sans-serif;font-weight:200" stroke="#0a0a0a" stroke-width="0.66" stroke-linejoin="round">P</text>
<text transform="translate(805.4,1181.9) scale(1.350,1.000)" font-size="13.2" fill="#0a0a0a" style="font-family:'DejaVu Sans',sans-serif;font-weight:200" stroke="#0a0a0a" stroke-width="2.18" stroke-linejoin="round">0</text>
<text transform="translate(717.1,1243.0) scale(1.192,1.000)" font-size="65.5" fill="#0a0a0a" style="font-family:'DejaVu Sans',sans-serif;font-weight:200">τ</text>
<text transform="translate(872.7,1206.2) scale(1.000,1.000)" font-size="62.7" fill="#0a0a0a" style="font-family:'Liberation Sans',sans-serif">≈</text>
<text transform="translate(945.0,1189.0) scale(0.839,1.000)" font-size="53.9" fill="#0a0a0a" style="font-family:'DejaVu Sans',sans-serif;font-weight:200" stroke="#0a0a0a" stroke-width="0.80" stroke-linejoin="round">h</text>
<text transform="translate(983.5,1195.0) scale(1.250,1.000)" font-size="47.3" fill="#0a0a0a" style="font-family:'DejaVu Sans',sans-serif;font-weight:200" stroke="#0a0a0a" stroke-width="0.63" stroke-linejoin="round">ν</text>
<text transform="translate(1016.3,1196.8) scale(1.155,1.000)" font-size="18.4" fill="#0a0a0a" style="font-family:'DejaVu Sans',sans-serif;font-weight:200" stroke="#0a0a0a" stroke-width="2.24" stroke-linejoin="round">0</text>
<text transform="translate(1052.3,1187.5) scale(0.750,1.000)" font-size="52.7" fill="#0a0a0a" style="font-family:'DejaVu Sans',sans-serif;font-weight:200" stroke="#0a0a0a" stroke-width="0.86" stroke-linejoin="round">P</text>
<text transform="translate(1080.4,1190.9) scale(1.350,1.000)" font-size="13.2" fill="#0a0a0a" style="font-family:'DejaVu Sans',sans-serif;font-weight:200" stroke="#0a0a0a" stroke-width="2.18" stroke-linejoin="round">0</text>
<text transform="translate(1116.0,1187.0) scale(1.248,1.000)" font-size="53.4" fill="#0a0a0a" style="font-family:'DejaVu Sans',sans-serif;font-weight:200" stroke="#0a0a0a" stroke-width="0.33" stroke-linejoin="round">Δ</text>
<text transform="translate(1164.6,1189.0) scale(1.771,1.000)" font-size="47.4" fill="#0a0a0a" style="font-family:'DejaVu Sans',sans-serif;font-weight:200">f</text>
<text transform="translate(416.5,1321.5) scale(1.043,1.000)" font-size="53.9" fill="#0a0a0a" style="font-family:'DejaVu Sans',sans-serif;font-weight:200" stroke="#0a0a0a" stroke-width="0.80" stroke-linejoin="round">S</text>
<text transform="translate(459.8,1329.3) scale(1.059,1.000)" font-size="27.3" fill="#0a0a0a" style="font-family:'DejaVu Sans',sans-serif;font-weight:200" stroke="#0a0a0a" stroke-width="2.00" stroke-linejoin="round">p</text>
<text transform="translate(489.2,1319.3) scale(1.120,1.000)" font-size="51.7" fill="#0a0a0a" style="font-family:'DejaVu Sans',sans-serif;font-weight:200" stroke="#0a0a0a" stroke-width="0.65" stroke-linejoin="round">(</text>
<text transform="translate(509.9,1321.0) scale(1.900,1.000)" font-size="44.7" fill="#0a0a0a" style="font-family:'DejaVu Sans',sans-serif;font-weight:200">f</text>
<text transform="translate(552.2,1318.4) scale(1.145,1.000)" font-size="50.6" fill="#0a0a0a" style="font-family:'DejaVu Sans',sans-serif;font-weight:200" stroke="#0a0a0a" stroke-width="0.66" stroke-linejoin="round">)</text>
<text transform="translate(590.7,1329.8) scale(1.000,1.412)" font-size="53.1" fill="#0a0a0a" style="font-family:'DejaVu Sans',sans-serif;font-weight:200">=</text>
<text transform="translate(694.9,1317.0) scale(1.350,1.000)" font-size="45.9" fill="#e0564e" style="font-family:'DejaVu Sans',sans-serif;font-weight:200" stroke="#e0564e" stroke-width="0.54" stroke-linejoin="round">2</text>
<text transform="translate(752.0,1319.6) scale(1.900,1.000)" font-size="39.3" fill="#0a0a0a" style="font-family:'DejaVu Sans',sans-serif;font-weight:200" stroke="#0a0a0a" stroke-width="0.27" stroke-linejoin="round">σ</text>
<text transform="translate(793.3,1330.5) scale(1.069,1.000)" font-size="31.2" fill="#0a0a0a" style="font-family:'DejaVu Sans',sans-serif;font-weight:200" stroke="#0a0a0a" stroke-width="1.78" stroke-linejoin="round">p</text>
<text transform="translate(820.4,1292.0) scale(1.179,1.000)" font-size="23.0" fill="#0a0a0a" style="font-family:'DejaVu Sans',sans-serif;font-weight:200" stroke="#0a0a0a" stroke-width="1.97" stroke-linejoin="round">2</text>
<text transform="translate(692.4,1398.0) scale(1.691,1.000)" font-size="50.7" fill="#0a0a0a" style="font-family:'DejaVu Sans',sans-serif;font-weight:200">Δ</text>
<text transform="translate(755.4,1394.0) scale(1.900,1.000)" font-size="39.5" fill="#0a0a0a" style="font-family:'DejaVu Sans',sans-serif;font-weight:200" stroke="#0a0a0a" stroke-width="0.26" stroke-linejoin="round">f</text>
<text transform="translate(903.6,1355.0) scale(1.000,2.171)" font-size="43.8" fill="#0a0a0a" style="font-family:'DejaVu Sans',sans-serif;font-weight:200">=</text>
<text transform="translate(980.2,1336.0) scale(1.350,1.000)" font-size="52.7" fill="#0a0a0a" style="font-family:'DejaVu Sans',sans-serif;font-weight:200" stroke="#0a0a0a" stroke-width="0.20" stroke-linejoin="round">2</text>
<text transform="translate(1040.9,1334.0) scale(0.750,1.000)" font-size="52.6" fill="#0a0a0a" style="font-family:'DejaVu Sans',sans-serif;font-weight:200" stroke="#0a0a0a" stroke-width="0.87" stroke-linejoin="round">h</text>
<text transform="translate(1077.1,1330.0) scale(1.193,1.000)" font-size="40.0" fill="#0a0a0a" style="font-family:'DejaVu Sans',sans-serif;font-weight:200" stroke="#0a0a0a" stroke-width="1.09" stroke-linejoin="round">ν</text>
<text transform="translate(1108.4,1331.9) scale(1.350,1.000)" font-size="13.2" fill="#0a0a0a" style="font-family:'DejaVu Sans',sans-serif;font-weight:200" stroke="#0a0a0a" stroke-width="2.18" stroke-linejoin="round">0</text>
<text transform="translate(1145.9,1326.4) scale(0.880,1.000)" font-size="58.1" fill="#0a0a0a" style="font-family:'DejaVu Sans',sans-serif;font-weight:200" stroke="#0a0a0a" stroke-width="0.59" stroke-linejoin="round">P</text>
<text transform="translate(1181.5,1328.9) scale(1.350,1.000)" font-size="11.8" fill="#0a0a0a" style="font-family:'DejaVu Sans',sans-serif;font-weight:200" stroke="#0a0a0a" stroke-width="2.24" stroke-linejoin="round">0</text>
<text transform="translate(1498.0,656.4) scale(1.001,1.000)" font-size="58.1" fill="#0a0a0a" style="font-family:'DejaVu Sans',sans-serif;font-weight:200" stroke="#0a0a0a" stroke-width="0.59" stroke-linejoin="round">P</text>
<text transform="translate(1461.7,728.6) scale(1.350,1.000)" font-size="60.0" fill="#0a0a0a" style="font-family:'DejaVu Sans',sans-serif;font-weight:200">[</text>
<text transform="translate(1483.6,725.0) scale(0.985,1.000)" font-size="41.1" fill="#0a0a0a" style="font-family:'DejaVu Sans',sans-serif;font-weight:200" stroke="#0a0a0a" stroke-width="1.45" stroke-linejoin="round">W</text>
<text transform="translate(1516.2,728.6) scale(1.350,1.000)" font-size="60.0" fill="#0a0a0a" style="font-family:'DejaVu Sans',sans-serif;font-weight:200">]</text>
<text transform="translate(1510.3,880.3) scale(0.810,1.000)" font-size="68.9" fill="#c4281f" style="font-family:'DejaVu Sans',sans-serif;font-weight:200">P</text>
<text transform="translate(1536.0,883.8) scale(1.294,1.000)" font-size="19.7" fill="#c4281f" style="font-family:'DejaVu Sans',sans-serif;font-weight:200" stroke="#c4281f" stroke-width="1.94" stroke-linejoin="round">0</text>
<text x="1482.2" y="1001.1" font-size="52.8" fill="#722387" letter-spacing="-3.43" style="font-family:'DejaVu Sans',sans-serif;font-weight:200" stroke="#722387" stroke-width="0.86" stroke-linejoin="round">h(t)</text>
<text transform="translate(1693.3,972.0) scale(0.760,1.000)" font-size="21.9" fill="#722387" style="font-family:'DejaVu Sans',sans-serif;font-weight:200" stroke="#722387" stroke-width="2.40" stroke-linejoin="round">1</text>
<text transform="translate(1686.3,1009.0) scale(1.350,1.000)" font-size="36.4" fill="#722387" style="font-family:'DejaVu Sans',sans-serif;font-weight:200" stroke="#722387" stroke-width="1.02" stroke-linejoin="round">τ</text>
<text transform="translate(1918.0,939.0) scale(1.350,1.000)" font-size="38.2" fill="#722387" style="font-family:'DejaVu Sans',sans-serif;font-weight:200" stroke="#722387" stroke-width="0.93" stroke-linejoin="round">τ</text>
<text transform="translate(1906.9,1070.8) scale(1.350,1.000)" font-size="25.0" fill="#0a0a0a" style="font-family:'DejaVu Sans',sans-serif;font-weight:200" stroke="#0a0a0a" stroke-width="1.59" stroke-linejoin="round">0</text>
<text transform="translate(2225.1,1083.0) scale(1.350,1.000)" font-size="52.9" fill="#0a0a0a" style="font-family:'DejaVu Sans',sans-serif;font-weight:200" stroke="#0a0a0a" stroke-width="0.19" stroke-linejoin="round">t</text>
<text transform="translate(1459.7,1100.5) scale(1.267,1.000)" font-size="52.6" fill="#0a0a0a" style="font-family:'DejaVu Sans',sans-serif;font-weight:200" stroke="#0a0a0a" stroke-width="0.33" stroke-linejoin="round">S</text>
<text transform="translate(1502.1,1111.6) scale(0.927,1.000)" font-size="35.1" fill="#0a0a0a" style="font-family:'DejaVu Sans',sans-serif;font-weight:200" stroke="#0a0a0a" stroke-width="1.74" stroke-linejoin="round">P</text>
<text transform="translate(1439.0,1234.8) scale(1.350,1.806)" font-size="72.0" fill="#0a0a0a" style="font-family:'DejaVu Sans',sans-serif;font-weight:200">[</text>
<text transform="translate(1520.5,1234.6) scale(1.350,1.929)" font-size="72.0" fill="#0a0a0a" style="font-family:'DejaVu Sans',sans-serif;font-weight:200">]</text>
<text transform="translate(1472.6,1184.0) scale(0.925,1.000)" font-size="42.5" fill="#0a0a0a" style="font-family:'DejaVu Sans',sans-serif;font-weight:200" stroke="#0a0a0a" stroke-width="1.38" stroke-linejoin="round">W</text>
<text transform="translate(1518.5,1155.0) scale(1.321,1.000)" font-size="18.9" fill="#0a0a0a" style="font-family:'DejaVu Sans',sans-serif;font-weight:200" stroke="#0a0a0a" stroke-width="1.93" stroke-linejoin="round">2</text>
<text x="1469.6" y="1243.0" font-size="45.2" fill="#0a0a0a" letter-spacing="-1.72" style="font-family:'DejaVu Sans',sans-serif;font-weight:200" stroke="#0a0a0a" stroke-width="1.24" stroke-linejoin="round">Hz</text>
<text transform="translate(2108.3,1184.0) scale(1.350,1.000)" font-size="47.3" fill="#c4281f" style="font-family:'DejaVu Sans',sans-serif;font-weight:200" stroke="#c4281f" stroke-width="0.47" stroke-linejoin="round">2</text>
<text transform="translate(2151.5,1177.0) scale(1.025,1.000)" font-size="39.5" fill="#c4281f" style="font-family:'DejaVu Sans',sans-serif;font-weight:200" stroke="#c4281f" stroke-width="1.53" stroke-linejoin="round">h</text>
<text transform="translate(2178.3,1179.0) scale(1.087,1.000)" font-size="41.8" fill="#c4281f" style="font-family:'DejaVu Sans',sans-serif;font-weight:200" stroke="#c4281f" stroke-width="1.21" stroke-linejoin="round">ν</text>
<text transform="translate(2202.9,1178.9) scale(1.350,1.000)" font-size="13.2" fill="#c4281f" style="font-family:'DejaVu Sans',sans-serif;font-weight:200" stroke="#c4281f" stroke-width="2.18" stroke-linejoin="round">0</text>
<text transform="translate(2219.6,1176.5) scale(1.070,1.000)" font-size="50.0" fill="#c4281f" style="font-family:'DejaVu Sans',sans-serif;font-weight:200" stroke="#c4281f" stroke-width="0.84" stroke-linejoin="round">P</text>
<text transform="translate(2248.2,1180.8) scale(1.350,1.000)" font-size="17.1" fill="#c4281f" style="font-family:'DejaVu Sans',sans-serif;font-weight:200" stroke="#c4281f" stroke-width="1.98" stroke-linejoin="round">0</text>
<text transform="translate(2236.5,1430.0) scale(1.900,1.000)" font-size="52.6" fill="#0a0a0a" style="font-family:'DejaVu Sans',sans-serif;font-weight:200">f</text>
</svg></body></html>
